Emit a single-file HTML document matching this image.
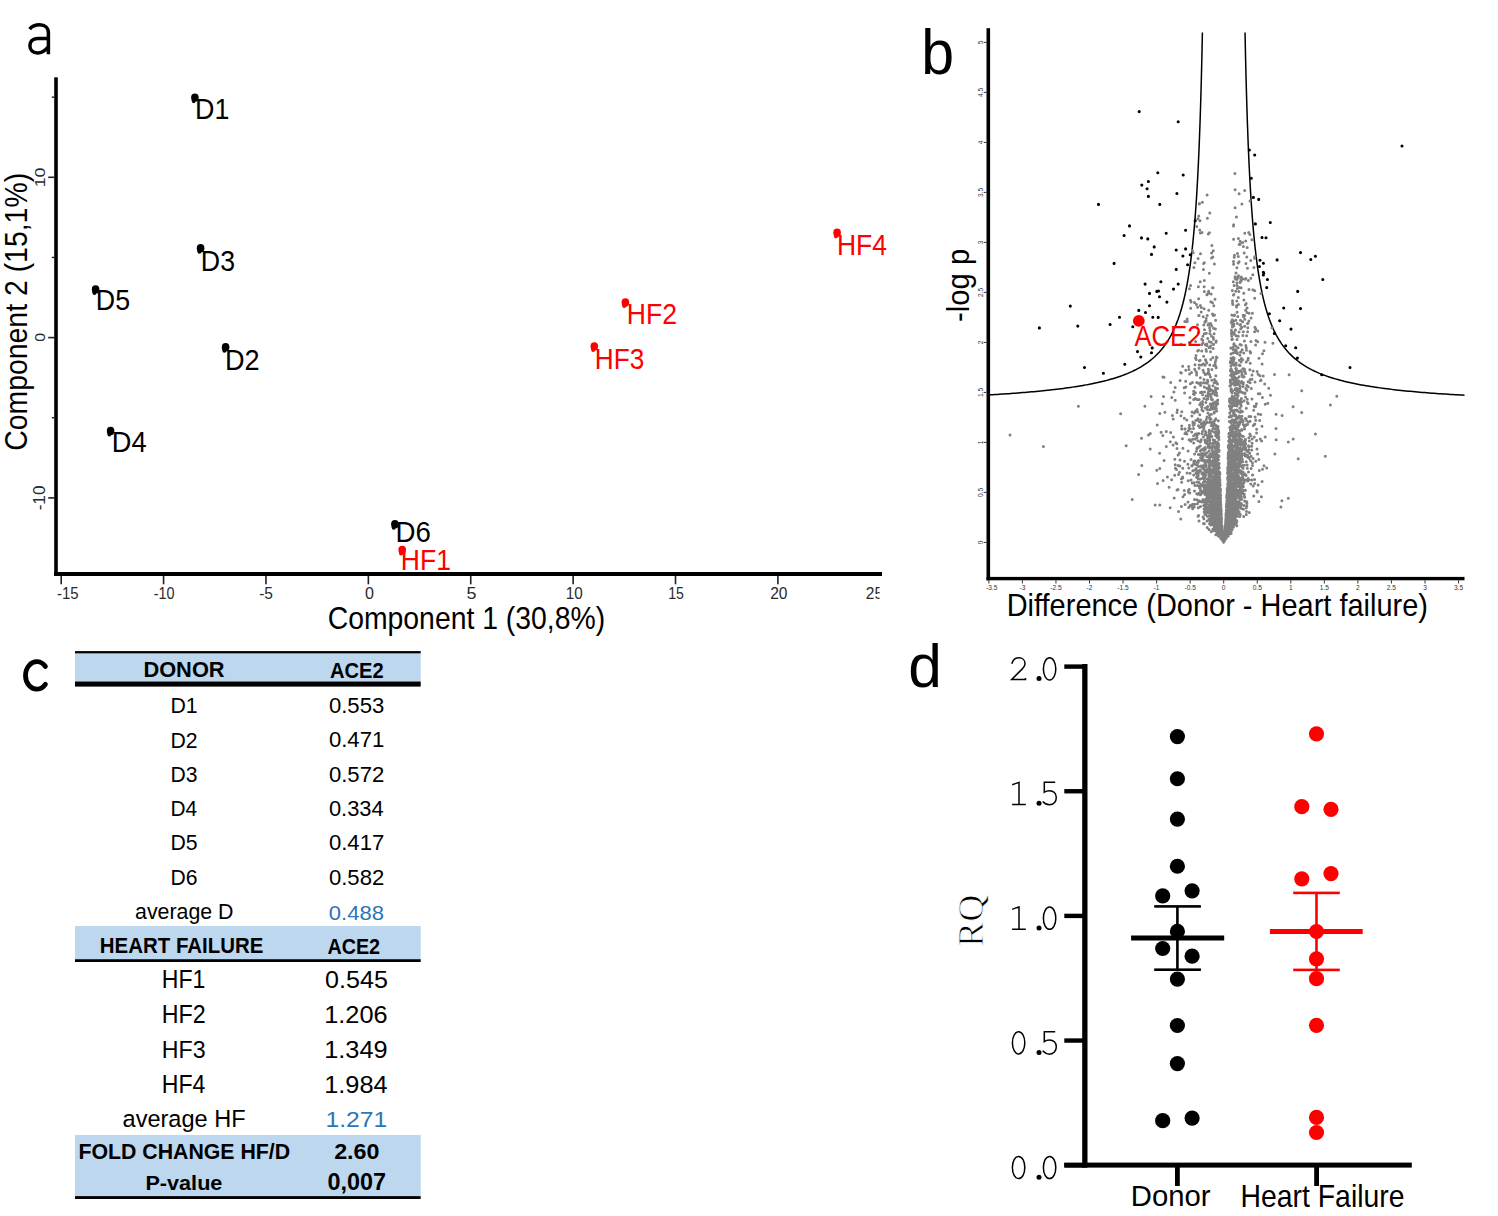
<!DOCTYPE html>
<html><head><meta charset="utf-8"><style>html,body{margin:0;padding:0;background:#fff}svg{display:block}</style></head>
<body><svg width="1498" height="1216" viewBox="0 0 1498 1216">
<rect width="1498" height="1216" fill="#fff"/>
<path d="M29.6 29.2C32 26.2 35.5 24.8 39.7 24.8C45 24.8 48.4 27.8 48.4 32.8V54.2M48.4 38.5H37.5C32.5 38.5 29.9 41.5 29.9 45.8C29.9 50.2 33 53 37.5 53C42 53 45.5 50.5 48.4 46.5" fill="none" stroke="#000" stroke-width="3.5"/>
<rect x="54.2" y="77.3" width="3.6" height="498.7" fill="#000"/>
<rect x="54" y="572" width="828" height="4" fill="#000"/>
<rect x="60.4" y="576" width="1.6" height="8.3" fill="#222"/>
<rect x="162.78" y="576" width="1.6" height="8.3" fill="#222"/>
<rect x="265.17" y="576" width="1.6" height="8.3" fill="#222"/>
<rect x="367.56" y="576" width="1.6" height="8.3" fill="#222"/>
<rect x="469.94" y="576" width="1.6" height="8.3" fill="#222"/>
<rect x="572.33" y="576" width="1.6" height="8.3" fill="#222"/>
<rect x="674.71" y="576" width="1.6" height="8.3" fill="#222"/>
<rect x="777.1" y="576" width="1.6" height="8.3" fill="#222"/>
<rect x="48.2" y="176.5" width="6" height="1.6" fill="#222"/>
<rect x="48.2" y="336.8" width="6" height="1.6" fill="#222"/>
<rect x="48.2" y="497.1" width="6" height="1.6" fill="#222"/>
<rect x="51.8" y="96.45" width="2.4" height="1.4" fill="#222"/>
<rect x="51.8" y="256.75" width="2.4" height="1.4" fill="#222"/>
<rect x="51.8" y="417.05" width="2.4" height="1.4" fill="#222"/>
<text transform="matrix(0.91 0 0 1 56.93 599.34)" font-family="'Liberation Sans', sans-serif" font-weight="400" font-size="16.43" fill="#2a2a2a">-15</text>
<text transform="matrix(0.89 0 0 1 153.65 599.34)" font-family="'Liberation Sans', sans-serif" font-weight="400" font-size="16.2" fill="#2a2a2a">-10</text>
<text transform="matrix(0.97 0 0 1 259.2 599.44)" font-family="'Liberation Sans', sans-serif" font-weight="400" font-size="16" fill="#2a2a2a">-5</text>
<text transform="matrix(1.02 0 0 1 365.06 599.44)" font-family="'Liberation Sans', sans-serif" font-weight="400" font-size="15.77" fill="#2a2a2a">0</text>
<text transform="matrix(1.12 0 0 1 466.38 599.44)" font-family="'Liberation Sans', sans-serif" font-weight="400" font-size="16" fill="#2a2a2a">5</text>
<text transform="matrix(0.94 0 0 1 565.86 599.34)" font-family="'Liberation Sans', sans-serif" font-weight="400" font-size="16.2" fill="#2a2a2a">10</text>
<text transform="matrix(0.86 0 0 1 668.14 599.34)" font-family="'Liberation Sans', sans-serif" font-weight="400" font-size="16.43" fill="#2a2a2a">15</text>
<text transform="matrix(0.96 0 0 1 770.22 599.34)" font-family="'Liberation Sans', sans-serif" font-weight="400" font-size="16.2" fill="#2a2a2a">20</text>
<clipPath id="c25"><rect x="860" y="580" width="19.6" height="30"/></clipPath><g clip-path="url(#c25)">
<text transform="matrix(0.96 0 0 1 865.83 599.34)" font-family="'Liberation Sans', sans-serif" font-weight="400" font-size="16.2" fill="#2a2a2a">25</text>
</g>
<text transform="translate(45.35 187.33) rotate(-90) scale(1.2 1)" font-family="'Liberation Sans', sans-serif" font-weight="400" font-size="14.79" fill="#2a2a2a">10</text>
<text transform="translate(45.45 341.74) rotate(-90) scale(1.06 1)" font-family="'Liberation Sans', sans-serif" font-weight="400" font-size="15.07" fill="#2a2a2a">0</text>
<text transform="translate(45.34 510.37) rotate(-90) scale(1.07 1)" font-family="'Liberation Sans', sans-serif" font-weight="400" font-size="16.06" fill="#2a2a2a">-10</text>
<text transform="translate(26.99 450.82) rotate(-90) scale(0.93 1)" font-family="'Liberation Sans', sans-serif" font-weight="400" font-size="30.56" fill="#000">Component 2 (15,1%)</text>
<text transform="matrix(0.92 0 0 1 327.68 629.09)" font-family="'Liberation Sans', sans-serif" font-weight="400" font-size="30.85" fill="#000">Component 1 (30,8%)</text>
<ellipse cx="194.9" cy="97.6" rx="3.8" ry="4.2" fill="#000"/>
<ellipse cx="193.7" cy="100.6" rx="2" ry="2.6" fill="#000"/>
<text transform="matrix(0.9 0 0 1 195.05 118.8)" font-family="'Liberation Sans', sans-serif" font-weight="400" font-size="29.86" fill="#000">D1</text>
<ellipse cx="200.6" cy="248.2" rx="3.8" ry="4.2" fill="#000"/>
<ellipse cx="199.4" cy="251.2" rx="2" ry="2.6" fill="#000"/>
<text transform="matrix(0.93 0 0 1 200.86 270.51)" font-family="'Liberation Sans', sans-serif" font-weight="400" font-size="28.73" fill="#000">D3</text>
<ellipse cx="95.6" cy="289.4" rx="3.8" ry="4.2" fill="#000"/>
<ellipse cx="94.4" cy="292.4" rx="2" ry="2.6" fill="#000"/>
<text transform="matrix(0.92 0 0 1 95.86 309.51)" font-family="'Liberation Sans', sans-serif" font-weight="400" font-size="29.14" fill="#000">D5</text>
<ellipse cx="225.6" cy="347.2" rx="3.8" ry="4.2" fill="#000"/>
<ellipse cx="224.4" cy="350.2" rx="2" ry="2.6" fill="#000"/>
<text transform="matrix(0.93 0 0 1 225.04 369.8)" font-family="'Liberation Sans', sans-serif" font-weight="400" font-size="29.14" fill="#000">D2</text>
<ellipse cx="110.6" cy="431" rx="3.8" ry="4.2" fill="#000"/>
<ellipse cx="109.4" cy="434" rx="2" ry="2.6" fill="#000"/>
<text transform="matrix(0.92 0 0 1 111.82 451.8)" font-family="'Liberation Sans', sans-serif" font-weight="400" font-size="29.57" fill="#000">D4</text>
<ellipse cx="394.9" cy="524.2" rx="3.8" ry="4.2" fill="#000"/>
<ellipse cx="393.7" cy="527.2" rx="2" ry="2.6" fill="#000"/>
<text transform="matrix(0.95 0 0 1 395.58 541.61)" font-family="'Liberation Sans', sans-serif" font-weight="400" font-size="29.15" fill="#000">D6</text>
<ellipse cx="402.2" cy="549.9" rx="3.8" ry="4.2" fill="#ff0000"/>
<ellipse cx="401" cy="552.9" rx="2" ry="2.6" fill="#ff0000"/>
<text transform="matrix(0.88 0 0 1 400.87 569.9)" font-family="'Liberation Sans', sans-serif" font-weight="400" font-size="30.14" fill="#ff0000">HF1</text>
<ellipse cx="625.4" cy="302.5" rx="3.8" ry="4.2" fill="#ff0000"/>
<ellipse cx="624.2" cy="305.5" rx="2" ry="2.6" fill="#ff0000"/>
<text transform="matrix(0.9 0 0 1 626.66 323.9)" font-family="'Liberation Sans', sans-serif" font-weight="400" font-size="29.57" fill="#ff0000">HF2</text>
<ellipse cx="594.3" cy="346.4" rx="3.8" ry="4.2" fill="#ff0000"/>
<ellipse cx="593.1" cy="349.4" rx="2" ry="2.6" fill="#ff0000"/>
<text transform="matrix(0.89 0 0 1 594.81 369.01)" font-family="'Liberation Sans', sans-serif" font-weight="400" font-size="29.44" fill="#ff0000">HF3</text>
<ellipse cx="837.1" cy="232.8" rx="3.8" ry="4.2" fill="#ff0000"/>
<ellipse cx="835.9" cy="235.8" rx="2" ry="2.6" fill="#ff0000"/>
<text transform="matrix(0.88 0 0 1 836.88 255)" font-family="'Liberation Sans', sans-serif" font-weight="400" font-size="30.14" fill="#ff0000">HF4</text>
<text transform="matrix(0.95 0 0 1 921.36 74.28)" font-family="'Liberation Sans', sans-serif" font-weight="400" font-size="62.18" fill="#000">b</text>
<rect x="986.5" y="28.2" width="3.6" height="552.1" fill="#000"/>
<rect x="986.5" y="576.9" width="478" height="3.4" fill="#000"/>
<rect x="988.35" y="580.3" width="1" height="3.2" fill="#333"/>
<text x="991.85" y="589.8" font-family="'Liberation Sans', sans-serif" font-size="6.6" text-anchor="middle" fill="#333">-3.5</text>
<rect x="1021.9" y="580.3" width="1" height="3.2" fill="#333"/>
<text x="1022.4" y="589.8" font-family="'Liberation Sans', sans-serif" font-size="6.6" text-anchor="middle" fill="#333">-3</text>
<rect x="1055.45" y="580.3" width="1" height="3.2" fill="#333"/>
<text x="1055.95" y="589.8" font-family="'Liberation Sans', sans-serif" font-size="6.6" text-anchor="middle" fill="#333">-2.5</text>
<rect x="1089" y="580.3" width="1" height="3.2" fill="#333"/>
<text x="1089.5" y="589.8" font-family="'Liberation Sans', sans-serif" font-size="6.6" text-anchor="middle" fill="#333">-2</text>
<rect x="1122.55" y="580.3" width="1" height="3.2" fill="#333"/>
<text x="1123.05" y="589.8" font-family="'Liberation Sans', sans-serif" font-size="6.6" text-anchor="middle" fill="#333">-1.5</text>
<rect x="1156.1" y="580.3" width="1" height="3.2" fill="#333"/>
<text x="1156.6" y="589.8" font-family="'Liberation Sans', sans-serif" font-size="6.6" text-anchor="middle" fill="#333">-1</text>
<rect x="1189.65" y="580.3" width="1" height="3.2" fill="#333"/>
<text x="1190.15" y="589.8" font-family="'Liberation Sans', sans-serif" font-size="6.6" text-anchor="middle" fill="#333">-0.5</text>
<rect x="1223.2" y="580.3" width="1" height="3.2" fill="#333"/>
<text x="1223.7" y="589.8" font-family="'Liberation Sans', sans-serif" font-size="6.6" text-anchor="middle" fill="#333">0</text>
<rect x="1256.75" y="580.3" width="1" height="3.2" fill="#333"/>
<text x="1257.25" y="589.8" font-family="'Liberation Sans', sans-serif" font-size="6.6" text-anchor="middle" fill="#333">0.5</text>
<rect x="1290.3" y="580.3" width="1" height="3.2" fill="#333"/>
<text x="1290.8" y="589.8" font-family="'Liberation Sans', sans-serif" font-size="6.6" text-anchor="middle" fill="#333">1</text>
<rect x="1323.85" y="580.3" width="1" height="3.2" fill="#333"/>
<text x="1324.35" y="589.8" font-family="'Liberation Sans', sans-serif" font-size="6.6" text-anchor="middle" fill="#333">1.5</text>
<rect x="1357.4" y="580.3" width="1" height="3.2" fill="#333"/>
<text x="1357.9" y="589.8" font-family="'Liberation Sans', sans-serif" font-size="6.6" text-anchor="middle" fill="#333">2</text>
<rect x="1390.95" y="580.3" width="1" height="3.2" fill="#333"/>
<text x="1391.45" y="589.8" font-family="'Liberation Sans', sans-serif" font-size="6.6" text-anchor="middle" fill="#333">2.5</text>
<rect x="1424.5" y="580.3" width="1" height="3.2" fill="#333"/>
<text x="1425" y="589.8" font-family="'Liberation Sans', sans-serif" font-size="6.6" text-anchor="middle" fill="#333">3</text>
<rect x="1458.05" y="580.3" width="1" height="3.2" fill="#333"/>
<text x="1458.55" y="589.8" font-family="'Liberation Sans', sans-serif" font-size="6.6" text-anchor="middle" fill="#333">3.5</text>
<rect x="983.8" y="541.9" width="2.7" height="1" fill="#333"/>
<text transform="translate(983.3 542.4) rotate(-90)" font-family="'Liberation Sans', sans-serif" font-size="6.6" text-anchor="middle" fill="#333">0</text>
<rect x="983.8" y="491.9" width="2.7" height="1" fill="#333"/>
<text transform="translate(983.3 492.4) rotate(-90)" font-family="'Liberation Sans', sans-serif" font-size="6.6" text-anchor="middle" fill="#333">0.5</text>
<rect x="983.8" y="441.9" width="2.7" height="1" fill="#333"/>
<text transform="translate(983.3 442.4) rotate(-90)" font-family="'Liberation Sans', sans-serif" font-size="6.6" text-anchor="middle" fill="#333">1</text>
<rect x="983.8" y="391.9" width="2.7" height="1" fill="#333"/>
<text transform="translate(983.3 392.4) rotate(-90)" font-family="'Liberation Sans', sans-serif" font-size="6.6" text-anchor="middle" fill="#333">1.5</text>
<rect x="983.8" y="341.9" width="2.7" height="1" fill="#333"/>
<text transform="translate(983.3 342.4) rotate(-90)" font-family="'Liberation Sans', sans-serif" font-size="6.6" text-anchor="middle" fill="#333">2</text>
<rect x="983.8" y="291.9" width="2.7" height="1" fill="#333"/>
<text transform="translate(983.3 292.4) rotate(-90)" font-family="'Liberation Sans', sans-serif" font-size="6.6" text-anchor="middle" fill="#333">2.5</text>
<rect x="983.8" y="241.9" width="2.7" height="1" fill="#333"/>
<text transform="translate(983.3 242.4) rotate(-90)" font-family="'Liberation Sans', sans-serif" font-size="6.6" text-anchor="middle" fill="#333">3</text>
<rect x="983.8" y="191.9" width="2.7" height="1" fill="#333"/>
<text transform="translate(983.3 192.4) rotate(-90)" font-family="'Liberation Sans', sans-serif" font-size="6.6" text-anchor="middle" fill="#333">3.5</text>
<rect x="983.8" y="141.9" width="2.7" height="1" fill="#333"/>
<text transform="translate(983.3 142.4) rotate(-90)" font-family="'Liberation Sans', sans-serif" font-size="6.6" text-anchor="middle" fill="#333">4</text>
<rect x="983.8" y="91.9" width="2.7" height="1" fill="#333"/>
<text transform="translate(983.3 92.4) rotate(-90)" font-family="'Liberation Sans', sans-serif" font-size="6.6" text-anchor="middle" fill="#333">4.5</text>
<rect x="983.8" y="41.9" width="2.7" height="1" fill="#333"/>
<text transform="translate(983.3 42.4) rotate(-90)" font-family="'Liberation Sans', sans-serif" font-size="6.6" text-anchor="middle" fill="#333">5</text>
<text transform="translate(969 322.02) rotate(-90) scale(0.94 1)" font-family="'Liberation Sans', sans-serif" font-weight="400" font-size="31.17" fill="#000">-log p</text>
<text transform="matrix(0.93 0 0 1 1006.69 616.2)" font-family="'Liberation Sans', sans-serif" font-weight="400" font-size="31.16" fill="#000">Difference (Donor - Heart failure)</text>
<path d="M1202.4 32.6 L1202.29 37.81 L1202.18 43.02 L1202.07 48.23 L1201.96 53.44 L1201.84 58.65 L1201.72 63.86 L1201.59 69.07 L1201.46 74.28 L1201.33 79.49 L1201.19 84.7 L1201.05 89.91 L1200.9 95.12 L1200.75 100.33 L1200.59 105.54 L1200.42 110.75 L1200.26 115.96 L1200.08 121.17 L1199.9 126.38 L1199.71 131.59 L1199.51 136.8 L1199.31 142.01 L1199.1 147.22 L1198.88 152.43 L1198.65 157.64 L1198.41 162.85 L1198.16 168.06 L1197.9 173.27 L1197.63 178.48 L1197.34 183.69 L1197.04 188.91 L1196.73 194.12 L1196.4 199.33 L1196.05 204.54 L1195.69 209.75 L1195.3 214.96 L1194.9 220.17 L1194.47 225.38 L1194.01 230.59 L1193.53 235.8 L1193.02 241.01 L1192.48 246.22 L1191.89 251.43 L1191.27 256.64 L1190.61 261.85 L1189.89 267.06 L1189.12 272.27 L1188.29 277.48 L1187.39 282.69 L1186.41 287.9 L1185.34 293.11 L1184.17 298.32 L1182.88 303.53 L1181.46 308.74 L1179.88 313.95 L1178.11 319.16 L1176.12 324.37 L1173.87 329.58 L1171.29 334.79 L1168.31 340 L1166.04 343.51 L1163.76 346.68 L1161.48 349.55 L1159.2 352.16 L1156.92 354.54 L1154.64 356.73 L1152.36 358.75 L1150.09 360.61 L1147.81 362.33 L1145.53 363.94 L1143.25 365.43 L1140.97 366.82 L1138.69 368.13 L1136.41 369.35 L1134.13 370.5 L1131.86 371.59 L1129.58 372.61 L1127.3 373.58 L1125.02 374.49 L1122.74 375.36 L1120.46 376.18 L1118.18 376.96 L1115.91 377.7 L1113.63 378.41 L1111.35 379.09 L1109.07 379.73 L1106.79 380.35 L1104.51 380.94 L1102.23 381.5 L1099.95 382.04 L1097.68 382.56 L1095.4 383.06 L1093.12 383.54 L1090.84 384 L1088.56 384.44 L1086.28 384.87 L1084 385.28 L1081.73 385.68 L1079.45 386.06 L1077.17 386.43 L1074.89 386.79 L1072.61 387.13 L1070.33 387.47 L1068.05 387.79 L1065.77 388.11 L1063.5 388.41 L1061.22 388.7 L1058.94 388.99 L1056.66 389.27 L1054.38 389.54 L1052.1 389.8 L1049.82 390.05 L1047.55 390.3 L1045.27 390.54 L1042.99 390.77 L1040.71 391 L1038.43 391.22 L1036.15 391.43 L1033.87 391.64 L1031.59 391.85 L1029.32 392.04 L1027.04 392.24 L1024.76 392.43 L1022.48 392.61 L1020.2 392.79 L1017.92 392.97 L1015.64 393.14 L1013.37 393.31 L1011.09 393.47 L1008.81 393.63 L1006.53 393.79 L1004.25 393.94 L1001.97 394.09 L999.69 394.24 L997.41 394.38 L995.14 394.52 L992.86 394.66 L990.58 394.79 L988.3 394.93" fill="none" stroke="#000" stroke-width="1.5"/>
<path d="M1245.03 32.6 L1245.14 37.81 L1245.25 43.02 L1245.36 48.23 L1245.47 53.44 L1245.59 58.65 L1245.72 63.86 L1245.84 69.07 L1245.97 74.28 L1246.1 79.49 L1246.24 84.7 L1246.39 89.91 L1246.53 95.12 L1246.69 100.33 L1246.84 105.54 L1247.01 110.75 L1247.18 115.96 L1247.35 121.17 L1247.53 126.38 L1247.72 131.59 L1247.92 136.8 L1248.12 142.01 L1248.33 147.22 L1248.55 152.43 L1248.78 157.64 L1249.02 162.85 L1249.27 168.06 L1249.53 173.27 L1249.81 178.48 L1250.09 183.69 L1250.39 188.91 L1250.71 194.12 L1251.03 199.33 L1251.38 204.54 L1251.75 209.75 L1252.13 214.96 L1252.54 220.17 L1252.96 225.38 L1253.42 230.59 L1253.9 235.8 L1254.41 241.01 L1254.96 246.22 L1255.54 251.43 L1256.16 256.64 L1256.82 261.85 L1257.54 267.06 L1258.31 272.27 L1259.14 277.48 L1260.04 282.69 L1261.02 287.9 L1262.09 293.11 L1263.26 298.32 L1264.55 303.53 L1265.97 308.74 L1267.55 313.95 L1269.32 319.16 L1271.31 324.37 L1273.57 329.58 L1276.14 334.79 L1279.12 340 L1281.46 343.61 L1283.81 346.86 L1286.16 349.79 L1288.5 352.45 L1290.85 354.88 L1293.2 357.1 L1295.54 359.15 L1297.89 361.03 L1300.24 362.77 L1302.58 364.39 L1304.93 365.9 L1307.28 367.3 L1309.62 368.61 L1311.97 369.84 L1314.32 371 L1316.66 372.08 L1319.01 373.11 L1321.36 374.07 L1323.7 374.99 L1326.05 375.85 L1328.4 376.67 L1330.74 377.45 L1333.09 378.19 L1335.44 378.9 L1337.78 379.57 L1340.13 380.21 L1342.48 380.82 L1344.82 381.41 L1347.17 381.97 L1349.52 382.51 L1351.86 383.02 L1354.21 383.52 L1356.56 383.99 L1358.9 384.45 L1361.25 384.89 L1363.6 385.31 L1365.94 385.72 L1368.29 386.11 L1370.64 386.49 L1372.98 386.86 L1375.33 387.21 L1377.68 387.55 L1380.02 387.88 L1382.37 388.2 L1384.72 388.51 L1387.06 388.81 L1389.41 389.1 L1391.76 389.38 L1394.1 389.66 L1396.45 389.92 L1398.79 390.18 L1401.14 390.43 L1403.49 390.67 L1405.83 390.91 L1408.18 391.14 L1410.53 391.36 L1412.87 391.58 L1415.22 391.79 L1417.57 392 L1419.91 392.2 L1422.26 392.39 L1424.61 392.59 L1426.95 392.77 L1429.3 392.95 L1431.65 393.13 L1433.99 393.3 L1436.34 393.47 L1438.69 393.64 L1441.03 393.8 L1443.38 393.96 L1445.73 394.11 L1448.07 394.26 L1450.42 394.41 L1452.77 394.55 L1455.11 394.69 L1457.46 394.83 L1459.81 394.97 L1462.15 395.1 L1464.5 395.23" fill="none" stroke="#000" stroke-width="1.5"/>
<path d="M1247.8 481.1h0M1222.9 537.6h0M1204.3 262.8h0M1228.7 490.8h0M1218.9 522.5h0M1212.9 530.2h0M1234.7 508.2h0M1202.4 202.3h0M1226.0 517.5h0M1224.8 533.7h0M1225.9 524.9h0M1225.1 534.6h0M1227.9 476.9h0M1220.2 526.2h0M1205.1 434.8h0M1213.1 487.2h0M1228.9 515.0h0M1178.1 455.0h0M1227.5 499.4h0M1200.4 233.1h0M1228.9 446.4h0M1228.4 461.8h0M1222.0 532.4h0M1236.5 479.2h0M1238.1 389.7h0M1216.1 500.7h0M1211.1 484.5h0M1226.9 527.9h0M1204.2 511.8h0M1237.3 490.3h0M1235.7 490.8h0M1223.7 542.4h0M1203.1 456.7h0M1207.2 493.6h0M1226.2 514.3h0M1222.8 539.7h0M1211.3 524.5h0M1220.8 515.9h0M1254.8 256.7h0M1244.9 445.9h0M1182.6 477.1h0M1232.3 490.5h0M1234.0 477.9h0M1221.3 522.9h0M1213.0 455.9h0M1156.8 470.2h0M1230.3 381.4h0M1233.3 450.9h0M1225.2 534.3h0M1235.1 381.5h0M1245.4 304.8h0M1217.0 521.2h0M1237.0 458.6h0M1241.8 450.7h0M1226.9 528.0h0M1220.7 527.1h0M1261.4 496.8h0M1230.5 523.4h0M1244.1 482.3h0M1221.2 511.4h0M1243.5 509.3h0M1225.7 521.2h0M1224.6 538.2h0M1221.7 532.9h0M1230.0 505.1h0M1221.4 533.5h0M1228.0 471.1h0M1228.6 487.6h0M1216.1 484.4h0M1226.6 506.5h0M1213.2 495.4h0M1224.7 535.5h0M1207.1 488.5h0M1232.1 465.4h0M1222.9 539.4h0M1230.5 480.8h0M1237.0 406.0h0M1228.3 452.5h0M1180.7 372.4h0M1223.4 541.0h0M1215.8 530.8h0M1242.7 436.3h0M1223.3 540.5h0M1233.0 475.7h0M1226.4 521.2h0M1220.6 519.4h0M1233.3 502.6h0M1234.6 422.5h0M1233.4 372.2h0M1240.8 441.0h0M1210.8 471.3h0M1242.8 445.1h0M1235.6 495.4h0M1201.3 423.9h0M1214.6 457.8h0M1235.6 329.9h0M1241.8 327.3h0M1232.3 499.1h0M1234.5 478.9h0M1212.4 465.9h0M1213.5 493.6h0M1223.8 542.1h0M1221.7 530.8h0M1212.6 484.2h0M1256.5 440.6h0M1227.8 518.5h0M1217.8 483.1h0M1201.4 485.4h0M1239.4 502.5h0M1239.5 464.5h0M1227.3 491.6h0M1226.1 531.9h0M1201.5 344.8h0M1229.1 498.7h0M1232.7 515.9h0M1225.6 530.4h0M1218.4 510.2h0M1230.4 475.4h0M1232.3 410.4h0M1218.4 520.3h0M1210.8 491.8h0M1224.4 539.8h0M1198.7 315.4h0M1224.5 538.4h0M1230.2 499.1h0M1229.6 507.2h0M1239.0 472.1h0M1240.5 462.8h0M1216.3 530.0h0M1233.6 224.8h0M1259.9 393.7h0M1218.8 507.1h0M1226.4 514.0h0M1245.0 371.4h0M1246.6 420.8h0M1219.2 499.0h0M1226.2 531.5h0M1222.4 534.0h0M1202.7 453.7h0M1222.3 537.5h0M1209.8 418.9h0M1235.6 519.7h0M1222.7 537.3h0M1219.9 522.4h0M1226.5 527.4h0M1223.9 542.0h0M1213.0 488.6h0M1222.7 536.3h0M1220.7 526.7h0M1232.4 511.0h0M1216.1 498.9h0M1214.1 509.8h0M1233.1 484.7h0M1227.1 528.2h0M1236.3 381.2h0M1219.1 515.2h0M1197.9 440.8h0M1207.4 500.6h0M1181.7 429.0h0M1207.4 509.1h0M1229.8 445.4h0M1203.6 505.5h0M1220.0 511.3h0M1221.3 525.4h0M1218.0 426.6h0M1227.5 500.7h0M1238.2 456.6h0M1224.5 538.1h0M1178.5 474.5h0M1215.0 527.2h0M1224.8 535.8h0M1245.8 449.3h0M1237.1 439.4h0M1219.9 506.2h0M1211.7 518.8h0M1238.2 493.3h0M1209.7 471.6h0M1230.6 502.3h0M1236.1 419.9h0M1219.9 521.1h0M1213.7 515.2h0M1224.5 538.5h0M1219.1 519.4h0M1216.5 510.5h0M1208.9 519.2h0M1229.3 510.8h0M1218.9 494.2h0M1232.0 495.3h0M1220.1 531.2h0M1232.8 469.7h0M1221.5 534.0h0M1218.2 463.5h0M1214.1 467.3h0M1236.3 383.9h0M1216.5 393.1h0M1218.4 480.2h0M1228.1 533.3h0M1225.0 532.7h0M1243.2 424.4h0M1215.1 477.8h0M1194.9 387.2h0M1215.4 523.8h0M1225.6 526.6h0M1218.2 443.3h0M1208.2 396.2h0M1227.2 512.7h0M1223.1 539.5h0M1208.2 388.1h0M1213.5 504.9h0M1212.4 507.6h0M1238.1 403.7h0M1243.5 316.7h0M1225.8 530.5h0M1227.9 513.6h0M1230.4 504.1h0M1194.2 394.6h0M1231.5 516.4h0M1225.3 533.1h0M1200.7 403.1h0M1219.6 495.9h0M1215.4 510.7h0M1229.9 489.9h0M1226.5 505.7h0M1221.3 513.8h0M1231.8 517.4h0M1224.9 536.7h0M1230.8 484.5h0M1223.8 542.2h0M1230.6 469.4h0M1225.2 532.4h0M1219.6 498.8h0M1204.1 286.8h0M1226.0 520.4h0M1206.4 443.3h0M1237.4 353.4h0M1226.4 526.5h0M1235.2 467.7h0M1219.1 528.2h0M1227.6 488.0h0M1226.3 526.3h0M1233.7 461.4h0M1250.0 200.9h0M1220.9 523.7h0M1208.9 515.7h0M1201.5 364.9h0M1222.2 531.4h0M1209.7 462.5h0M1218.8 527.5h0M1225.8 531.0h0M1224.4 541.0h0M1220.9 508.0h0M1230.3 482.0h0M1229.1 516.2h0M1227.6 473.5h0M1211.1 409.1h0M1222.8 538.4h0M1191.7 431.9h0M1276.2 439.8h0M1221.0 528.0h0M1232.5 449.4h0M1228.6 468.3h0M1228.0 522.4h0M1240.4 444.8h0M1221.0 525.0h0M1232.7 431.0h0M1201.2 439.8h0M1232.1 483.2h0M1242.3 374.8h0M1201.2 454.8h0M1213.5 498.4h0M1237.5 400.5h0M1231.4 330.2h0M1224.5 537.9h0M1218.2 467.1h0M1216.9 455.5h0M1229.8 448.9h0M1228.5 502.4h0M1224.5 539.1h0M1224.6 539.5h0M1230.5 477.6h0M1224.7 535.8h0M1236.5 502.7h0M1234.5 514.0h0M1219.9 514.8h0M1226.0 515.4h0M1233.2 495.5h0M1226.9 504.1h0M1217.4 491.2h0M1227.5 534.6h0M1227.2 514.1h0M1217.5 383.9h0M1224.3 539.6h0M1237.1 285.6h0M1209.3 273.2h0M1223.2 539.7h0M1228.2 502.0h0M1213.1 454.7h0M1216.5 481.7h0M1231.3 457.4h0M1224.9 538.1h0M1230.7 433.3h0M1217.0 459.1h0M1190.1 505.4h0M1185.1 428.9h0M1219.6 492.2h0M1230.8 494.8h0M1217.6 521.6h0M1200.3 305.4h0M1217.1 401.3h0M1204.5 329.8h0M1220.4 534.2h0M1225.2 538.8h0M1239.1 261.7h0M1227.8 520.3h0M1224.1 540.7h0M1216.0 519.4h0M1209.9 448.0h0M1219.4 505.6h0M1224.8 534.6h0M1218.6 536.2h0M1218.4 498.7h0M1230.5 485.1h0M1238.3 508.0h0M1217.9 521.9h0M1231.6 510.7h0M1223.2 540.8h0M1204.8 424.4h0M1217.8 477.1h0M1219.5 526.3h0M1225.8 529.4h0M1206.4 511.9h0M1221.7 535.7h0M1193.2 252.7h0M1214.7 528.3h0M1234.9 173.4h0M1236.5 401.7h0M1245.7 474.7h0M1224.4 538.5h0M1228.1 536.3h0M1229.8 427.5h0M1220.1 512.4h0M1220.3 504.3h0M1218.6 522.2h0M1234.7 373.4h0M1228.2 454.3h0M1228.8 505.5h0M1232.5 527.1h0M1261.0 380.0h0M1232.5 508.1h0M1216.5 503.1h0M1210.4 492.6h0M1225.8 533.4h0M1211.4 505.3h0M1221.0 530.9h0M1226.1 521.2h0M1235.7 460.1h0M1229.6 474.4h0M1226.1 530.1h0M1228.5 520.9h0M1225.2 528.1h0M1229.7 523.4h0M1218.9 494.4h0M1229.6 499.1h0M1195.3 398.5h0M1231.1 514.4h0M1231.6 466.5h0M1237.3 279.3h0M1176.8 443.7h0M1227.7 518.0h0M1184.8 321.4h0M1230.2 442.7h0M1237.4 514.4h0M1223.9 542.0h0M1225.8 531.4h0M1222.5 539.2h0M1199.2 365.1h0M1224.4 537.9h0M1211.0 418.9h0M1232.1 416.0h0M1219.0 502.3h0M1218.9 476.5h0M1234.6 465.8h0M1225.9 526.1h0M1223.3 540.9h0M1219.9 526.9h0M1230.4 473.3h0M1224.6 538.7h0M1232.3 419.7h0M1235.0 514.5h0M1221.9 534.9h0M1217.5 496.4h0M1214.3 506.9h0M1234.3 485.0h0M1216.6 382.9h0M1224.7 538.1h0M1228.7 507.4h0M1226.2 521.4h0M1223.8 542.1h0M1229.2 533.9h0M1215.6 527.2h0M1224.0 541.4h0M1236.1 363.0h0M1236.7 465.9h0M1236.1 481.8h0M1230.0 455.7h0M1189.1 428.0h0M1241.6 439.6h0M1229.0 500.4h0M1228.2 509.7h0M1222.7 537.3h0M1212.5 443.4h0M1236.2 523.6h0M1218.8 515.6h0M1214.4 263.9h0M1233.1 507.0h0M1233.3 502.6h0M1241.6 381.5h0M1227.2 511.4h0M1228.5 499.3h0M1225.6 534.8h0M1225.0 534.3h0M1235.5 400.1h0M1208.9 485.6h0M1218.8 466.4h0M1236.0 446.4h0M1222.3 536.5h0M1231.2 528.1h0M1233.6 380.0h0M1227.1 518.6h0M1227.9 514.1h0M1233.1 398.8h0M1234.3 463.9h0M1218.1 517.2h0M1233.3 281.7h0M1225.6 532.4h0M1223.3 540.7h0M1218.2 530.9h0M1229.1 527.6h0M1225.5 527.2h0M1233.5 504.1h0M1234.3 397.2h0M1227.6 513.9h0M1228.9 433.8h0M1219.8 515.1h0M1224.8 534.9h0M1221.0 521.0h0M1226.9 512.6h0M1234.4 479.8h0M1228.9 437.1h0M1232.9 464.2h0M1223.1 539.8h0M1214.3 411.9h0M1230.9 468.8h0M1274.5 374.5h0M1233.2 504.1h0M1213.5 497.8h0M1213.3 392.4h0M1226.2 527.8h0M1226.7 525.7h0M1211.6 253.0h0M1219.9 504.6h0M1234.5 477.8h0M1193.5 464.2h0M1224.6 538.6h0M1234.4 503.2h0M1237.3 427.8h0M1216.6 507.6h0M1231.6 332.1h0M1219.8 525.7h0M1226.1 513.3h0M1233.6 433.1h0M1231.5 506.4h0M1225.9 532.4h0M1237.2 505.5h0M1213.1 502.9h0M1202.9 336.2h0M1254.6 331.8h0M1229.2 512.6h0M1233.2 462.7h0M1220.4 527.1h0M1241.8 487.3h0M1218.4 504.7h0M1211.5 517.8h0M1215.5 480.1h0M1193.7 442.9h0M1222.0 531.3h0M1252.5 465.6h0M1220.5 533.2h0M1223.1 539.8h0M1227.8 494.5h0M1218.1 515.8h0M1238.1 495.5h0M1230.5 486.5h0M1224.3 540.8h0M1241.6 460.6h0M1220.3 523.8h0M1208.1 472.1h0M1212.5 302.8h0M1256.7 440.5h0M1263.9 350.8h0M1220.8 534.9h0M1220.1 488.6h0M1218.5 530.6h0M1179.5 472.3h0M1210.0 486.8h0M1229.9 445.7h0M1221.2 532.1h0M1247.4 402.5h0M1225.0 532.3h0M1227.9 486.9h0M1228.8 513.9h0M1235.3 436.9h0M1223.4 541.1h0M1221.3 529.9h0M1218.3 492.7h0M1224.6 537.2h0M1215.9 450.8h0M1223.1 540.4h0M1215.9 392.0h0M1226.1 534.7h0M1232.3 517.6h0M1223.8 542.2h0M1221.9 538.0h0M1230.7 502.0h0M1248.7 232.6h0M1226.6 517.7h0M1224.1 540.9h0M1236.2 503.7h0M1231.9 489.5h0M1217.6 437.3h0M1220.3 516.7h0M1220.3 491.3h0M1230.5 382.4h0M1218.6 517.8h0M1241.0 494.2h0M1224.6 538.0h0M1221.4 533.7h0M1230.1 450.8h0M1236.4 505.8h0M1226.3 531.0h0M1197.7 412.1h0M1216.5 477.8h0M1231.0 532.1h0M1244.7 315.6h0M1220.6 521.0h0M1225.6 525.1h0M1221.2 531.6h0M1225.8 535.4h0M1242.2 454.5h0M1228.9 511.9h0M1229.4 448.6h0M1220.0 523.2h0M1215.2 469.7h0M1226.5 523.7h0M1225.7 523.2h0M1219.6 517.9h0M1213.4 456.4h0M1224.0 541.4h0M1222.3 536.6h0M1194.3 413.1h0M1234.6 473.9h0M1250.2 363.2h0M1201.8 407.4h0M1209.7 460.2h0M1224.1 540.8h0M1213.1 425.4h0M1243.8 447.4h0M1239.0 478.8h0M1210.8 493.1h0M1234.3 504.0h0M1221.0 531.2h0M1228.5 491.0h0M1228.4 516.4h0M1234.6 410.3h0M1215.8 405.1h0M1240.0 344.6h0M1232.5 524.9h0M1197.2 482.1h0M1230.5 506.0h0M1227.1 515.6h0M1232.8 493.4h0M1206.3 419.4h0M1230.2 514.8h0M1222.4 536.0h0M1216.2 483.6h0M1227.0 531.9h0M1227.5 519.8h0M1209.1 451.1h0M1202.7 404.4h0M1228.7 474.3h0M1220.5 523.3h0M1228.4 504.6h0M1230.5 501.3h0M1232.2 517.3h0M1221.2 524.4h0M1223.3 540.1h0M1230.6 518.3h0M1221.0 532.2h0M1219.9 495.0h0M1209.9 454.4h0M1219.6 533.4h0M1232.3 503.8h0M1240.0 386.3h0M1234.7 487.1h0M1230.5 519.0h0M1237.8 427.6h0M1254.2 437.1h0M1227.4 528.3h0M1218.9 520.2h0M1245.5 450.0h0M1221.1 525.2h0M1241.7 479.8h0M1225.3 527.1h0M1223.6 542.1h0M1213.2 480.4h0M1204.3 512.3h0M1243.1 491.1h0M1226.2 533.9h0M1231.7 473.0h0M1244.7 326.3h0M1205.5 359.7h0M1227.3 515.9h0M1175.2 464.7h0M1233.5 503.4h0M1223.5 541.8h0M1250.9 341.6h0M1216.9 435.4h0M1231.9 509.3h0M1233.2 496.6h0M1229.7 443.8h0M1229.8 480.2h0M1237.3 480.5h0M1221.1 534.2h0M1184.3 490.6h0M1228.6 440.9h0M1230.4 430.2h0M1240.9 351.8h0M1231.1 489.3h0M1223.7 542.4h0M1221.6 534.3h0M1210.2 481.3h0M1177.0 412.4h0M1230.8 493.2h0M1188.3 491.9h0M1211.8 404.4h0M1225.7 532.6h0M1239.2 244.6h0M1211.4 454.7h0M1227.1 521.2h0M1211.4 399.0h0M1237.3 507.0h0M1188.4 430.8h0M1223.7 542.3h0M1217.5 485.4h0M1230.3 492.5h0M1237.3 501.8h0M1229.0 521.8h0M1224.8 537.6h0M1231.9 403.1h0M1243.2 384.1h0M1249.9 234.5h0M1207.9 412.9h0M1227.5 532.4h0M1215.4 457.7h0M1232.2 448.0h0M1233.8 344.6h0M1225.8 534.4h0M1212.2 509.5h0M1220.8 531.4h0M1216.4 522.8h0M1207.2 471.9h0M1233.7 466.5h0M1211.4 399.2h0M1217.1 521.8h0M1222.7 538.8h0M1216.6 446.1h0M1222.5 538.8h0M1206.4 351.3h0M1218.2 528.1h0M1197.6 465.3h0M1220.8 525.8h0M1240.6 498.5h0M1216.2 340.9h0M1219.9 528.6h0M1228.1 528.0h0M1197.5 324.8h0M1216.3 408.6h0M1235.7 496.7h0M1220.7 522.5h0M1221.1 516.8h0M1229.1 497.9h0M1227.2 518.3h0M1202.6 491.4h0M1225.3 533.4h0M1232.2 487.0h0M1204.9 514.3h0M1216.1 477.9h0M1227.0 513.0h0M1226.4 526.7h0M1238.8 291.6h0M1232.3 319.7h0M1250.1 382.7h0M1218.3 509.2h0M1218.6 508.0h0M1219.1 502.9h0M1222.0 534.7h0M1211.8 431.0h0M1212.6 489.9h0M1220.9 520.2h0M1232.7 486.4h0M1228.8 520.5h0M1205.6 423.4h0M1238.7 371.3h0M1220.1 519.8h0M1232.1 519.4h0M1219.6 532.2h0M1219.9 491.2h0M1221.1 521.8h0M1244.4 341.0h0M1218.9 522.2h0M1212.1 454.2h0M1177.0 489.9h0M1226.1 525.3h0M1204.8 476.7h0M1206.0 499.0h0M1221.9 532.3h0M1243.9 300.1h0M1222.9 538.6h0M1231.8 435.8h0M1229.0 512.1h0M1226.8 521.9h0M1214.8 457.1h0M1246.2 454.9h0M1228.1 515.8h0M1209.9 493.5h0M1217.0 446.5h0M1229.0 519.8h0M1207.6 293.7h0M1226.6 517.8h0M1250.6 460.8h0M1212.8 403.1h0M1215.6 482.1h0M1213.7 510.8h0M1250.8 260.5h0M1222.7 536.9h0M1236.4 217.1h0M1232.0 399.9h0M1219.8 511.4h0M1233.0 525.7h0M1203.3 459.8h0M1227.9 530.7h0M1237.0 371.2h0M1226.7 528.9h0M1215.9 496.8h0M1231.8 525.1h0M1207.8 492.7h0M1233.4 514.2h0M1215.8 534.7h0M1226.6 528.9h0M1199.1 315.4h0M1243.5 479.9h0M1232.5 303.1h0M1222.8 538.9h0M1239.2 425.0h0M1231.0 502.7h0M1228.6 485.2h0M1216.7 510.9h0M1226.6 504.9h0M1216.7 515.0h0M1246.5 511.5h0M1236.5 475.3h0M1213.2 524.7h0M1206.9 344.1h0M1231.5 478.5h0M1224.5 539.2h0M1234.5 378.7h0M1216.6 443.8h0M1233.0 495.5h0M1227.6 520.6h0M1228.4 490.6h0M1228.4 513.1h0M1217.8 508.7h0M1224.4 539.5h0M1223.4 541.5h0M1230.6 510.9h0M1235.9 496.4h0M1204.3 422.8h0M1213.2 439.8h0M1230.9 515.7h0M1240.0 365.4h0M1203.9 398.5h0M1221.7 525.9h0M1236.3 483.2h0M1221.8 526.5h0M1235.1 207.8h0M1222.7 538.5h0M1232.5 474.6h0M1218.7 525.1h0M1236.0 516.5h0M1244.8 233.3h0M1233.0 347.4h0M1255.6 328.6h0M1182.7 478.0h0M1242.5 475.4h0M1217.6 530.4h0M1209.4 434.4h0M1234.4 435.1h0M1197.0 437.4h0M1218.1 491.1h0M1218.2 514.6h0M1216.6 519.3h0M1256.6 432.9h0M1241.7 487.9h0M1236.8 384.8h0M1224.9 534.6h0M1216.0 521.0h0M1225.6 533.0h0M1212.6 405.3h0M1218.5 445.5h0M1223.2 540.0h0M1215.3 362.0h0M1221.4 536.1h0M1205.8 514.7h0M1225.1 535.2h0M1234.7 459.0h0M1227.8 534.5h0M1218.8 436.9h0M1222.7 539.0h0M1244.0 505.5h0M1243.2 448.0h0M1232.0 510.5h0M1226.7 496.8h0M1234.3 334.2h0M1219.9 524.2h0M1233.2 349.4h0M1232.5 451.6h0M1232.9 375.7h0M1193.6 435.8h0M1189.3 342.6h0M1209.2 504.5h0M1200.5 478.9h0M1209.1 445.6h0M1231.2 461.6h0M1239.9 452.6h0M1232.7 455.4h0M1217.1 525.1h0M1219.6 524.1h0M1225.5 534.2h0M1242.6 359.8h0M1225.8 530.9h0M1228.0 529.8h0M1228.6 494.2h0M1218.2 490.0h0M1244.3 474.4h0M1222.9 537.5h0M1202.4 466.1h0M1222.6 539.9h0M1223.4 541.8h0M1235.5 394.8h0M1227.0 512.8h0M1225.6 523.2h0M1224.3 540.5h0M1232.6 377.7h0M1196.0 371.6h0M1226.5 510.2h0M1244.2 253.0h0M1240.3 491.4h0M1208.1 447.3h0M1233.7 522.7h0M1234.1 518.4h0M1215.2 469.5h0M1216.2 488.1h0M1229.4 464.4h0M1229.8 499.7h0M1229.5 530.5h0M1220.8 529.8h0M1225.3 531.6h0M1202.6 484.4h0M1207.1 452.7h0M1219.0 489.2h0M1227.5 522.9h0M1209.1 347.5h0M1218.2 503.8h0M1226.6 515.7h0M1211.3 493.7h0M1217.5 443.4h0M1214.6 502.5h0M1209.4 506.4h0M1226.7 518.9h0M1220.6 497.9h0M1223.5 541.5h0M1234.6 385.2h0M1229.3 421.5h0M1231.4 475.9h0M1215.7 502.1h0M1224.0 541.4h0M1235.0 503.1h0M1230.9 495.5h0M1210.8 473.5h0M1192.0 465.9h0M1218.5 430.4h0M1205.4 442.5h0M1206.0 349.6h0M1225.5 528.2h0M1223.6 542.2h0M1233.1 502.0h0M1224.6 537.0h0M1197.1 409.4h0M1216.7 473.6h0M1202.0 232.4h0M1222.0 534.4h0M1227.1 528.0h0M1242.9 472.1h0M1231.7 474.8h0M1218.2 462.9h0M1226.1 527.2h0M1244.1 496.2h0M1225.6 534.2h0M1211.9 436.6h0M1228.7 484.9h0M1236.3 501.2h0M1222.7 537.6h0M1217.5 480.4h0M1213.8 472.4h0M1211.7 493.1h0M1214.8 482.1h0M1231.4 429.3h0M1210.0 330.6h0M1220.2 499.7h0M1163.1 480.4h0M1228.8 510.0h0M1233.4 477.4h0M1216.1 503.9h0M1229.0 522.0h0M1218.0 522.7h0M1229.5 474.0h0M1224.3 540.2h0M1184.5 461.3h0M1235.2 502.8h0M1224.4 539.2h0M1235.8 454.6h0M1216.1 459.1h0M1211.1 396.7h0M1249.4 441.0h0M1227.6 522.1h0M1223.9 541.9h0M1276.1 414.2h0M1232.5 300.7h0M1224.7 539.1h0M1217.8 503.5h0M1222.5 538.9h0M1221.0 527.9h0M1244.5 440.7h0M1235.3 478.3h0M1216.2 503.0h0M1211.8 461.4h0M1178.2 465.5h0M1222.3 536.3h0M1223.6 542.0h0M1241.7 392.2h0M1227.8 516.8h0M1217.0 520.2h0M1219.4 519.2h0M1232.4 503.1h0M1231.1 514.0h0M1181.8 411.8h0M1230.5 451.1h0M1215.7 443.1h0M1231.8 339.6h0M1223.2 540.0h0M1233.1 446.0h0M1227.0 521.2h0M1188.8 467.9h0M1220.6 495.3h0M1270.5 395.3h0M1230.1 514.5h0M1226.1 515.5h0M1229.6 504.5h0M1224.2 540.9h0M1224.0 541.4h0M1228.0 503.8h0M1218.2 495.9h0M1233.1 523.3h0M1238.2 509.0h0M1229.8 453.9h0M1221.6 530.8h0M1228.0 510.7h0M1226.6 534.9h0M1228.3 515.2h0M1216.0 518.5h0M1235.3 438.6h0M1239.1 193.8h0M1212.4 314.0h0M1189.2 489.5h0M1217.9 527.8h0M1239.9 435.2h0M1206.9 294.7h0M1211.6 491.3h0M1181.3 372.9h0M1220.2 530.4h0M1240.0 503.7h0M1253.1 458.6h0M1215.2 475.4h0M1256.4 403.8h0M1238.3 336.3h0M1239.9 433.5h0M1233.6 375.8h0M1243.7 443.5h0M1230.7 515.3h0M1226.8 532.8h0M1184.9 433.5h0M1226.6 529.0h0M1215.2 493.5h0M1210.0 460.9h0M1239.1 331.9h0M1151.1 396.6h0M1245.2 279.2h0M1241.9 483.3h0M1226.8 517.0h0M1205.0 321.6h0M1226.7 533.2h0M1218.9 495.9h0M1223.1 538.7h0M1233.5 504.4h0M1202.0 425.0h0M1225.3 535.6h0M1234.9 483.2h0M1228.3 526.8h0M1226.1 518.6h0M1229.2 440.4h0M1238.6 384.3h0M1224.7 536.5h0M1239.0 497.9h0M1239.4 486.8h0M1211.0 490.6h0M1230.6 478.3h0M1220.3 531.4h0M1245.6 443.8h0M1227.6 529.0h0M1229.4 512.9h0M1207.8 500.9h0M1220.7 531.9h0M1234.3 350.1h0M1247.8 327.7h0M1222.1 534.4h0M1239.3 493.3h0M1228.6 507.1h0M1188.2 480.7h0M1224.0 541.7h0M1220.8 514.5h0M1213.0 421.9h0M1203.4 382.7h0M1214.3 499.3h0M1220.2 513.3h0M1232.9 505.0h0M1199.4 454.4h0M1219.3 519.3h0M1228.5 467.7h0M1231.3 512.2h0M1224.4 538.2h0M1215.4 497.5h0M1229.2 416.9h0M1227.2 508.4h0M1238.7 453.0h0M1215.4 462.0h0M1227.7 478.5h0M1223.4 541.7h0M1217.7 482.1h0M1236.3 504.2h0M1227.7 505.6h0M1220.1 518.9h0M1237.1 312.2h0M1249.0 289.4h0M1237.5 491.9h0M1239.6 483.1h0M1208.0 482.6h0M1230.4 456.1h0M1243.5 444.0h0M1218.4 522.2h0M1217.0 437.5h0M1228.0 511.0h0M1233.2 498.7h0M1227.0 523.5h0M1225.6 527.4h0M1226.3 532.3h0M1229.7 481.2h0M1233.2 434.4h0M1211.9 245.5h0M1211.0 447.7h0M1227.3 493.8h0M1227.3 510.9h0M1242.6 493.2h0M1205.2 485.0h0M1227.0 534.6h0M1231.4 483.5h0M1236.8 457.4h0M1208.2 512.3h0M1224.2 540.5h0M1193.9 267.5h0M1211.0 435.7h0M1239.3 360.2h0M1206.8 504.0h0M1192.5 504.3h0M1235.1 451.2h0M1227.0 520.9h0M1222.7 537.9h0M1200.6 382.8h0M1233.6 440.0h0M1232.0 460.0h0M1228.9 519.9h0M1202.6 401.6h0M1227.0 503.7h0M1225.4 534.4h0M1227.7 494.2h0M1216.1 518.0h0M1232.2 517.2h0M1216.7 512.2h0M1224.3 540.2h0M1217.0 485.1h0M1218.9 509.4h0M1217.2 484.2h0M1239.2 376.8h0M1229.5 488.0h0M1219.1 520.3h0M1218.0 483.7h0M1218.1 491.7h0M1236.2 431.0h0M1230.3 513.7h0M1225.9 526.2h0M1229.9 485.0h0M1217.8 517.0h0M1219.4 531.4h0M1201.3 484.5h0M1246.3 347.8h0M1227.6 503.8h0M1253.3 425.4h0M1227.9 489.7h0M1229.9 528.3h0M1204.2 479.3h0M1225.9 520.6h0M1224.3 540.0h0M1196.2 359.5h0M1235.1 452.1h0M1213.1 494.8h0M1208.3 369.2h0M1224.8 537.3h0M1213.9 515.4h0M1194.9 262.7h0M1214.7 520.2h0M1234.3 469.3h0M1215.0 299.2h0M1258.1 374.3h0M1244.8 319.2h0M1204.6 485.1h0M1193.9 462.3h0M1219.8 511.5h0M1229.3 506.8h0M1219.7 534.0h0M1203.4 460.2h0M1223.2 540.0h0M1236.6 307.1h0M1230.6 473.8h0M1238.8 436.3h0M1210.5 351.7h0M1224.6 538.9h0M1199.3 360.8h0M1198.6 332.4h0M1184.3 418.3h0M1227.4 511.0h0M1211.3 389.9h0M1233.3 516.9h0M1221.1 523.4h0M1225.4 525.3h0M1223.9 541.7h0M1239.5 490.8h0M1213.9 519.6h0M1228.2 507.7h0M1221.1 515.1h0M1227.9 532.7h0M1224.0 541.3h0M1226.1 521.5h0M1225.8 536.4h0M1221.9 527.9h0M1248.1 478.6h0M1215.4 448.5h0M1225.1 538.9h0M1229.7 484.5h0M1222.1 538.7h0M1211.2 513.3h0M1241.8 455.9h0M1209.5 477.3h0M1217.0 474.8h0M1212.0 393.7h0M1254.7 298.3h0M1232.5 506.8h0M1226.5 515.2h0M1221.9 526.3h0M1227.8 467.2h0M1220.9 529.2h0M1231.9 524.6h0M1229.1 516.4h0M1235.3 521.2h0M1209.2 385.7h0M1226.8 525.9h0M1233.0 453.1h0M1228.8 526.7h0M1226.5 518.5h0M1244.5 426.6h0M1190.7 308.3h0M1226.2 514.9h0M1218.3 515.8h0M1226.3 506.7h0M1213.6 525.4h0M1219.3 485.8h0M1225.5 527.3h0M1212.5 486.0h0M1213.0 528.9h0M1226.4 510.1h0M1231.6 477.7h0M1211.2 342.3h0M1226.0 525.3h0M1220.4 489.0h0M1242.4 459.2h0M1173.1 445.0h0M1231.1 533.4h0M1224.2 540.7h0M1220.0 526.5h0M1220.2 522.5h0M1230.3 494.8h0M1222.6 534.2h0M1218.7 488.4h0M1218.7 433.1h0M1224.7 538.8h0M1215.8 475.3h0M1219.0 455.9h0M1207.2 485.3h0M1258.9 501.4h0M1235.4 504.2h0M1235.6 426.5h0M1235.7 471.1h0M1214.0 465.9h0M1234.6 438.8h0M1227.8 525.4h0M1205.2 488.5h0M1242.1 467.3h0M1212.1 490.4h0M1212.5 472.2h0M1236.1 463.8h0M1204.1 508.8h0M1227.6 513.3h0M1211.1 509.0h0M1212.1 482.8h0M1230.3 506.9h0M1227.3 528.5h0M1235.0 482.1h0M1210.7 405.5h0M1232.5 474.9h0M1234.8 506.1h0M1163.5 396.5h0M1215.1 490.8h0M1224.0 541.4h0M1223.8 542.2h0M1218.9 521.0h0M1224.7 537.1h0M1233.2 513.3h0M1227.2 510.5h0M1246.1 418.8h0M1215.7 484.2h0M1220.5 501.6h0M1227.5 525.4h0M1243.4 382.7h0M1226.4 523.3h0M1218.5 521.3h0M1230.1 517.5h0M1221.7 537.3h0M1192.6 508.8h0M1232.6 506.3h0M1213.7 442.6h0M1215.0 530.2h0M1216.4 357.0h0M1214.6 446.4h0M1230.8 421.5h0M1225.5 529.6h0M1239.9 454.9h0M1221.8 527.4h0M1219.3 519.9h0M1223.1 540.2h0M1231.4 435.2h0M1233.1 363.5h0M1219.9 531.2h0M1229.7 441.7h0M1215.9 342.2h0M1220.9 512.4h0M1235.9 516.0h0M1236.1 487.8h0M1231.3 446.0h0M1216.7 531.8h0M1228.3 518.1h0M1214.9 523.6h0M1226.7 530.5h0M1215.5 508.3h0M1235.7 416.3h0M1219.4 532.8h0M1222.7 536.2h0M1206.1 361.2h0M1218.4 504.7h0M1230.4 490.7h0M1215.2 402.1h0M1230.9 470.2h0M1191.7 506.6h0M1225.3 531.2h0M1212.2 487.6h0M1211.2 425.5h0M1180.0 459.9h0M1223.2 540.2h0M1186.8 419.9h0M1231.7 485.8h0M1213.5 459.5h0M1240.4 507.0h0M1196.8 448.8h0M1227.3 519.2h0M1236.9 482.7h0M1219.5 511.9h0M1181.7 482.2h0M1225.5 530.0h0M1225.2 532.4h0M1219.8 528.0h0M1245.8 388.6h0M1227.0 524.4h0M1216.7 510.5h0M1218.4 520.8h0M1231.7 479.6h0M1223.0 539.7h0M1236.5 483.4h0M1225.4 536.2h0M1226.3 521.5h0M1238.0 441.9h0M1236.8 404.9h0M1221.2 533.5h0M1219.4 533.7h0M1194.8 504.2h0M1226.0 522.2h0M1224.0 541.4h0M1204.3 280.6h0M1243.8 293.3h0M1245.6 425.6h0M1241.2 497.2h0M1212.3 450.2h0M1198.2 507.8h0M1224.7 536.5h0M1226.7 509.6h0M1234.2 403.0h0M1231.6 360.2h0M1217.4 459.8h0M1228.6 495.7h0M1226.0 534.4h0M1216.9 462.4h0M1224.4 538.1h0M1235.7 457.0h0M1218.9 517.3h0M1208.4 460.0h0M1221.0 505.3h0M1230.4 523.6h0M1214.4 492.1h0M1216.5 487.4h0M1228.5 499.3h0M1226.7 525.5h0M1219.9 474.3h0M1216.5 498.2h0M1224.9 535.5h0M1213.2 505.1h0M1212.6 287.7h0M1220.8 510.9h0M1234.3 345.0h0M1232.5 494.2h0M1219.2 524.4h0M1236.0 483.9h0M1214.4 475.2h0M1192.4 382.4h0M1223.8 542.1h0M1235.2 421.1h0M1209.0 485.0h0M1196.9 499.8h0M1202.7 340.3h0M1220.2 485.2h0M1252.1 438.9h0M1208.3 234.1h0M1204.8 473.0h0M1220.1 509.9h0M1205.3 493.4h0M1213.9 486.7h0M1224.1 541.6h0M1196.1 468.4h0M1225.0 538.5h0M1234.9 374.0h0M1246.3 408.2h0M1221.5 518.9h0M1205.2 494.6h0M1239.3 424.2h0M1239.8 499.2h0M1220.2 534.1h0M1224.1 540.8h0M1204.1 308.7h0M1210.7 323.5h0M1222.8 538.6h0M1225.3 536.8h0M1219.9 526.7h0M1217.9 508.4h0M1228.3 515.6h0M1214.6 480.4h0M1228.6 512.9h0M1238.8 454.9h0M1171.6 479.7h0M1227.7 516.7h0M1204.1 426.1h0M1215.4 328.9h0M1222.1 538.1h0M1240.9 435.6h0M1225.7 530.3h0M1222.3 531.6h0M1229.2 484.9h0M1219.3 467.9h0M1226.2 520.9h0M1231.3 490.6h0M1221.4 533.4h0M1237.4 443.3h0M1224.9 535.9h0M1243.6 448.9h0M1195.5 357.9h0M1226.6 517.6h0M1225.4 527.6h0M1218.1 432.9h0M1239.1 421.8h0M1228.5 520.8h0M1228.5 509.0h0M1244.4 454.2h0M1219.1 520.2h0M1207.4 516.2h0M1226.7 516.6h0M1220.0 512.3h0M1198.5 473.0h0M1222.4 532.5h0M1207.2 527.5h0M1207.9 500.2h0M1221.5 536.4h0M1222.3 532.2h0M1228.3 498.1h0M1226.7 533.1h0M1241.7 372.4h0M1222.4 537.8h0M1226.6 507.3h0M1248.4 280.4h0M1237.6 394.7h0M1230.8 496.1h0M1210.1 507.9h0M1237.4 352.7h0M1213.1 344.2h0M1224.7 538.5h0M1169.1 487.2h0M1208.8 456.1h0M1218.7 444.7h0M1217.6 388.5h0M1210.7 525.0h0M1222.5 538.0h0M1227.6 477.7h0M1232.0 490.5h0M1225.5 525.4h0M1230.8 348.1h0M1225.2 529.9h0M1217.7 522.1h0M1205.0 365.2h0M1228.1 494.6h0M1226.2 538.2h0M1236.5 486.6h0M1243.3 331.7h0M1220.1 522.6h0M1230.3 467.8h0M1228.9 528.0h0M1241.7 499.2h0M1221.2 526.8h0M1227.7 490.9h0M1212.7 516.1h0M1224.6 537.9h0M1224.6 536.7h0M1223.5 541.6h0M1215.9 488.9h0M1223.0 539.1h0M1226.2 512.5h0M1219.1 502.2h0M1228.7 509.5h0M1213.9 523.7h0M1234.3 480.5h0M1216.7 518.3h0M1213.1 391.7h0M1228.9 503.6h0M1227.6 511.4h0M1227.0 511.1h0M1220.2 531.6h0M1229.6 439.1h0M1228.1 480.1h0M1245.5 448.0h0M1237.1 378.3h0M1218.4 479.7h0M1239.9 355.3h0M1178.0 489.4h0M1225.7 521.9h0M1213.4 510.9h0M1217.4 497.8h0M1228.2 521.6h0M1228.6 517.6h0M1207.5 506.9h0M1227.6 503.8h0M1226.8 521.5h0M1212.9 529.5h0M1236.5 510.3h0M1220.6 531.0h0M1211.2 522.5h0M1229.9 457.4h0M1229.3 507.7h0M1206.8 456.7h0M1219.7 534.0h0M1227.7 522.7h0M1222.2 531.3h0M1208.0 444.8h0M1206.4 501.7h0M1224.8 537.1h0M1234.1 506.4h0M1232.1 507.8h0M1228.6 503.7h0M1238.3 470.6h0M1228.8 494.2h0M1218.2 430.3h0M1198.4 286.8h0M1227.5 489.8h0M1227.3 520.5h0M1221.5 525.3h0M1241.1 362.1h0M1260.5 380.7h0M1212.0 491.4h0M1232.1 405.9h0M1228.2 466.8h0M1223.5 541.6h0M1229.3 467.3h0M1225.4 534.9h0M1228.7 458.6h0M1229.7 521.4h0M1225.6 535.0h0M1232.9 493.1h0M1222.2 532.4h0M1231.8 492.3h0M1218.2 528.8h0M1224.3 539.8h0M1208.6 291.2h0M1241.3 280.8h0M1260.0 375.7h0M1229.7 413.1h0M1230.2 531.9h0M1227.7 534.9h0M1228.3 461.8h0M1225.6 530.0h0M1231.4 484.8h0M1230.4 495.7h0M1216.2 501.5h0M1226.8 523.5h0M1204.8 439.9h0M1246.2 303.4h0M1226.9 517.2h0M1248.4 445.7h0M1225.3 533.4h0M1221.3 521.7h0M1251.7 446.3h0M1218.9 506.8h0M1222.1 527.1h0M1226.8 525.8h0M1229.4 521.8h0M1229.7 483.0h0M1234.7 445.8h0M1230.5 409.2h0M1208.6 500.8h0M1222.8 537.9h0M1229.2 481.3h0M1229.4 467.1h0M1230.0 485.2h0M1228.3 510.2h0M1225.3 537.0h0M1237.8 418.3h0M1204.3 333.7h0M1223.9 542.0h0M1220.4 531.6h0M1209.9 506.6h0M1216.1 501.1h0M1203.6 356.3h0M1203.8 428.9h0M1255.7 406.3h0M1230.6 478.5h0M1219.9 482.6h0M1220.9 508.9h0M1253.1 370.9h0M1244.1 400.8h0M1219.5 512.9h0M1199.0 493.2h0M1223.9 541.9h0M1216.2 367.8h0M1215.3 488.0h0M1217.7 444.4h0M1224.2 540.6h0M1235.5 475.9h0M1187.9 464.2h0M1223.6 542.1h0M1241.4 382.5h0M1245.5 397.0h0M1227.6 500.0h0M1222.2 540.0h0M1209.6 374.4h0M1235.0 458.9h0M1219.8 528.0h0M1203.6 263.5h0M1226.4 520.5h0M1238.0 501.8h0M1219.6 521.6h0M1232.6 519.1h0M1216.2 507.1h0M1232.1 469.2h0M1200.3 446.1h0M1232.9 501.5h0M1244.7 453.5h0M1250.8 278.3h0M1236.1 335.8h0M1221.1 529.1h0M1227.0 503.7h0M1237.1 465.1h0M1210.4 377.1h0M1236.1 447.3h0M1228.2 521.8h0M1232.4 505.8h0M1213.9 487.9h0M1231.9 505.6h0M1230.5 511.9h0M1236.4 370.3h0M1205.6 508.6h0M1215.9 520.0h0M1225.3 535.7h0M1233.4 473.7h0M1223.7 542.4h0M1161.1 432.2h0M1211.7 489.4h0M1262.5 353.7h0M1230.6 428.2h0M1227.7 527.0h0M1225.6 532.4h0M1229.8 489.4h0M1200.9 441.1h0M1238.4 238.5h0M1227.2 496.9h0M1218.8 490.4h0M1222.2 537.3h0M1265.2 436.9h0M1209.7 485.8h0M1216.4 500.9h0M1207.2 383.2h0M1252.8 274.7h0M1221.5 529.7h0M1216.1 526.0h0M1211.4 336.0h0M1219.6 525.6h0M1225.6 521.8h0M1257.7 341.7h0M1205.0 462.8h0M1213.6 495.9h0M1189.1 439.7h0M1207.1 422.2h0M1184.8 429.1h0M1229.1 492.4h0M1234.2 412.9h0M1248.3 358.3h0M1210.1 521.5h0M1203.8 427.8h0M1219.3 500.6h0M1228.2 480.4h0M1223.1 539.7h0M1180.8 519.0h0M1203.5 453.5h0M1240.8 492.5h0M1216.0 472.4h0M1227.0 507.0h0M1223.4 541.0h0M1202.0 433.7h0M1206.5 490.0h0M1224.7 539.6h0M1199.4 421.7h0M1206.0 396.0h0M1224.1 540.7h0M1229.1 505.7h0M1219.2 519.0h0M1199.0 446.8h0M1233.7 505.9h0M1239.4 437.3h0M1229.3 522.8h0M1222.4 537.8h0M1242.7 421.2h0M1205.4 449.1h0M1225.8 527.8h0M1233.2 511.9h0M1209.0 529.5h0M1218.4 459.8h0M1215.1 501.5h0M1233.2 426.6h0M1229.7 437.2h0M1229.6 511.1h0M1202.9 500.3h0M1224.9 535.2h0M1230.1 459.0h0M1231.8 315.0h0M1231.9 501.5h0M1224.0 541.5h0M1227.0 514.1h0M1232.3 290.6h0M1234.5 510.8h0M1217.6 516.0h0M1223.1 539.9h0M1229.4 500.1h0M1230.4 460.8h0M1233.6 360.9h0M1220.8 517.6h0M1224.4 539.5h0M1224.9 534.7h0M1227.4 508.9h0M1220.5 490.4h0M1234.0 506.8h0M1230.9 416.8h0M1190.5 300.2h0M1229.8 478.8h0M1227.8 521.4h0M1223.0 540.6h0M1182.7 366.3h0M1221.8 530.7h0M1211.3 484.5h0M1225.5 527.3h0M1166.3 431.4h0M1225.0 537.9h0M1206.1 470.4h0M1229.4 488.9h0M1226.7 532.1h0M1225.8 520.0h0M1224.8 536.4h0M1231.0 505.0h0M1199.0 368.2h0M1219.4 517.5h0M1250.8 484.0h0M1214.7 511.0h0M1194.1 507.1h0M1221.1 533.2h0M1210.5 506.2h0M1226.2 529.0h0M1222.4 536.6h0M1221.1 515.9h0M1232.4 502.9h0M1209.8 492.1h0M1235.1 276.8h0M1232.7 523.8h0M1205.8 510.0h0M1239.0 448.0h0M1182.9 448.2h0M1225.1 533.2h0M1230.9 366.1h0M1219.3 502.3h0M1201.2 427.0h0M1233.8 325.8h0M1224.1 541.2h0M1226.5 519.6h0M1229.0 478.5h0M1235.5 474.4h0M1228.0 477.4h0M1239.2 464.3h0M1224.9 534.9h0M1221.9 535.6h0M1216.6 521.3h0M1232.0 392.7h0M1221.2 528.5h0M1229.3 459.6h0M1221.1 535.3h0M1233.2 509.8h0M1223.6 542.3h0M1220.6 502.9h0M1217.6 533.3h0M1220.8 532.7h0M1228.4 464.2h0M1225.5 524.7h0M1214.7 498.9h0M1170.7 432.6h0M1221.4 535.2h0M1212.0 479.7h0M1233.6 332.4h0M1251.1 468.4h0M1231.5 518.7h0M1214.5 482.5h0M1205.0 508.5h0M1233.6 264.3h0M1225.9 531.2h0M1254.7 483.6h0M1226.8 521.2h0M1239.8 481.4h0M1234.3 467.6h0M1199.9 470.1h0M1225.7 532.5h0M1239.6 470.3h0M1214.5 518.0h0M1233.1 502.5h0M1216.9 492.7h0M1245.7 241.0h0M1235.4 498.6h0M1224.5 538.1h0M1246.5 350.3h0M1233.8 464.0h0M1208.0 499.8h0M1228.2 520.9h0M1234.1 485.7h0M1240.1 447.7h0M1215.5 525.2h0M1251.1 456.3h0M1208.9 474.4h0M1226.6 521.6h0M1238.9 433.6h0M1203.9 372.5h0M1175.2 387.6h0M1221.0 528.1h0M1237.8 458.8h0M1220.4 519.8h0M1218.8 507.0h0M1239.5 438.5h0M1231.2 480.6h0M1227.1 528.7h0M1235.2 486.6h0M1227.6 493.4h0M1226.6 534.8h0M1204.0 473.7h0M1226.3 534.7h0M1232.2 501.9h0M1226.4 527.4h0M1244.7 190.6h0M1223.1 540.5h0M1232.3 405.9h0M1217.1 510.1h0M1226.2 524.4h0M1236.8 479.4h0M1217.9 522.6h0M1226.5 515.7h0M1226.6 517.4h0M1231.1 531.4h0M1220.8 528.7h0M1227.7 524.7h0M1233.0 514.4h0M1228.9 517.2h0M1188.1 451.1h0M1219.2 522.0h0M1215.1 364.2h0M1237.5 396.5h0M1235.6 514.4h0M1212.3 505.7h0M1230.4 461.4h0M1213.9 506.0h0M1232.3 476.8h0M1227.6 491.8h0M1212.4 509.4h0M1211.8 506.0h0M1237.2 466.9h0M1220.0 520.5h0M1216.0 524.5h0M1218.8 528.3h0M1208.1 485.6h0M1247.9 323.3h0M1227.3 526.2h0M1193.9 461.2h0M1198.6 515.6h0M1262.0 426.2h0M1218.1 509.7h0M1226.8 495.5h0M1213.9 484.3h0M1229.1 466.1h0M1236.4 390.6h0M1217.2 432.5h0M1200.4 451.0h0M1235.3 330.1h0M1220.0 528.4h0M1224.5 537.4h0M1224.6 538.6h0M1178.5 511.5h0M1224.8 537.9h0M1209.7 484.5h0M1233.3 499.4h0M1212.5 469.5h0M1217.3 524.2h0M1247.2 247.5h0M1228.3 501.0h0M1212.9 428.4h0M1241.2 451.5h0M1225.1 537.2h0M1226.1 531.2h0M1234.5 425.5h0M1224.2 540.6h0M1194.5 490.9h0M1235.2 471.8h0M1223.9 541.8h0M1240.1 241.3h0M1218.3 499.9h0M1244.0 453.9h0M1223.5 541.8h0M1162.8 435.4h0M1236.7 423.0h0M1230.5 513.5h0M1219.6 529.7h0M1213.5 479.7h0M1223.9 542.0h0M1224.6 537.0h0M1227.7 507.8h0M1238.1 490.5h0M1230.3 512.4h0M1272.9 343.2h0M1213.3 521.0h0M1226.5 533.8h0M1223.7 542.4h0M1221.4 536.8h0M1225.9 534.3h0M1204.3 291.5h0M1230.6 470.5h0M1230.9 455.4h0M1203.5 482.1h0M1237.9 277.3h0M1203.9 468.5h0M1225.6 529.4h0M1231.4 503.1h0M1218.3 470.7h0M1232.2 440.3h0M1228.3 447.6h0M1224.2 540.3h0M1244.5 428.9h0M1225.3 533.9h0M1217.6 470.7h0M1219.0 528.0h0M1229.9 527.2h0M1208.0 500.0h0M1257.6 454.0h0M1229.0 512.5h0M1222.2 534.1h0M1235.5 438.9h0M1223.7 542.4h0M1276.0 428.5h0M1223.7 542.4h0M1217.7 502.6h0M1223.9 541.8h0M1215.9 524.1h0M1229.2 466.2h0M1224.4 538.9h0M1228.8 467.6h0M1219.3 507.2h0M1234.0 343.7h0M1243.0 443.2h0M1216.9 432.3h0M1225.1 533.0h0M1215.6 390.6h0M1222.0 537.5h0M1225.4 535.3h0M1236.4 368.8h0M1241.7 402.0h0M1230.2 498.7h0M1230.1 506.1h0M1216.1 505.8h0M1212.5 512.3h0M1213.5 493.8h0M1244.3 494.3h0M1228.9 503.4h0M1220.4 501.1h0M1214.3 507.1h0M1228.0 480.8h0M1214.1 512.0h0M1221.3 537.1h0M1224.8 534.2h0M1231.2 440.3h0M1243.7 516.4h0M1257.7 330.9h0M1208.7 390.6h0M1194.5 499.6h0M1201.6 407.0h0M1219.1 504.2h0M1220.5 526.1h0M1231.7 383.2h0M1225.1 534.3h0M1219.9 505.8h0M1238.0 507.2h0M1232.9 518.3h0M1212.0 495.1h0M1232.1 441.5h0M1207.6 380.3h0M1223.2 539.5h0M1224.1 540.5h0M1227.3 504.5h0M1217.9 428.1h0M1240.2 281.7h0M1221.6 532.5h0M1213.8 305.7h0M1219.1 450.3h0M1227.6 506.0h0M1198.3 507.8h0M1232.8 304.4h0M1236.5 502.5h0M1217.7 493.6h0M1226.9 508.6h0M1224.0 541.2h0M1226.6 524.6h0M1232.2 496.8h0M1220.9 526.6h0M1226.6 521.0h0M1223.6 541.9h0M1194.2 424.5h0M1198.6 298.7h0M1237.3 479.0h0M1220.1 507.5h0M1221.8 531.7h0M1226.9 495.0h0M1231.2 527.2h0M1216.9 522.2h0M1223.4 541.4h0M1220.8 529.4h0M1227.6 491.2h0M1216.5 492.2h0M1225.3 536.1h0M1232.1 470.2h0M1231.8 500.7h0M1225.4 530.4h0M1219.6 532.0h0M1218.3 435.3h0M1206.8 409.3h0M1225.9 519.7h0M1217.6 515.5h0M1227.2 518.4h0M1233.0 465.2h0M1233.4 437.8h0M1229.0 494.9h0M1226.7 535.4h0M1206.2 504.5h0M1233.4 489.1h0M1222.8 536.8h0M1239.9 494.6h0M1210.4 454.9h0M1216.3 503.4h0M1225.8 532.7h0M1212.8 487.9h0M1214.7 504.9h0M1241.4 448.9h0M1207.6 406.6h0M1227.1 532.4h0M1213.7 478.6h0M1224.7 536.2h0M1257.0 490.8h0M1217.1 477.3h0M1228.7 508.4h0M1224.7 538.1h0M1233.0 483.0h0M1219.4 523.1h0M1233.3 446.9h0M1236.1 441.6h0M1217.4 448.8h0M1224.5 538.9h0M1239.1 364.9h0M1243.6 490.3h0M1233.0 500.3h0M1223.3 541.2h0M1226.9 529.3h0M1213.6 464.5h0M1206.3 502.6h0M1209.9 333.4h0M1226.9 509.1h0M1225.6 532.5h0M1224.9 536.9h0M1226.9 516.2h0M1228.7 526.6h0M1150.3 433.6h0M1201.8 492.3h0M1226.2 534.3h0M1230.1 478.1h0M1223.8 542.3h0M1229.4 508.8h0M1212.3 516.9h0M1227.7 519.3h0M1231.0 514.3h0M1217.2 476.3h0M1226.1 525.3h0M1223.2 541.0h0M1213.5 456.9h0M1239.7 464.5h0M1234.7 398.5h0M1242.7 321.8h0M1236.8 457.4h0M1226.5 532.0h0M1208.4 387.9h0M1199.0 521.0h0M1228.9 489.5h0M1228.1 457.2h0M1227.8 526.8h0M1212.3 423.0h0M1250.7 435.8h0M1235.8 489.0h0M1199.1 399.6h0M1227.6 521.2h0M1230.9 478.3h0M1218.5 519.1h0M1224.5 537.2h0M1229.4 519.6h0M1225.1 534.6h0M1245.2 446.4h0M1157.5 483.4h0M1228.2 532.3h0M1220.8 535.7h0M1227.5 516.0h0M1237.1 404.6h0M1227.5 514.6h0M1225.8 529.6h0M1214.9 510.7h0M1200.5 385.3h0M1237.2 477.6h0M1197.7 351.0h0M1221.9 530.0h0M1236.0 349.7h0M1211.8 431.1h0M1198.5 350.3h0M1212.5 516.9h0M1212.7 452.7h0M1235.9 428.9h0M1212.6 407.5h0M1200.5 457.6h0M1219.1 523.4h0M1227.3 504.7h0M1224.8 534.1h0M1247.6 331.7h0M1203.1 465.9h0M1222.0 536.8h0M1241.5 504.2h0M1226.6 528.0h0M1257.0 449.1h0M1225.8 533.7h0M1234.6 500.6h0M1225.8 519.7h0M1219.8 534.9h0M1227.1 512.1h0M1235.2 388.9h0M1232.5 362.5h0M1242.8 483.0h0M1226.8 515.5h0M1228.8 465.2h0M1216.4 502.1h0M1216.2 491.6h0M1242.8 465.4h0M1219.7 492.8h0M1233.2 494.3h0M1209.4 496.5h0M1215.7 469.3h0M1235.4 486.6h0M1223.3 540.5h0M1227.5 523.7h0M1206.8 388.2h0M1171.8 397.4h0M1164.0 377.3h0M1232.0 523.5h0M1227.4 529.1h0M1254.9 406.7h0M1222.2 533.9h0M1230.5 473.9h0M1214.4 522.7h0M1232.6 470.3h0M1221.6 535.4h0M1212.6 513.2h0M1195.4 392.7h0M1227.2 525.6h0M1221.2 525.2h0M1209.2 510.4h0M1216.7 457.3h0M1229.9 407.2h0M1227.7 527.3h0M1227.7 472.5h0M1236.5 520.4h0M1219.0 510.4h0M1208.9 472.8h0M1231.6 373.0h0M1234.9 520.6h0M1225.0 533.1h0M1244.2 473.7h0M1231.4 428.0h0M1221.9 538.3h0M1230.2 507.6h0M1235.6 479.1h0M1206.3 422.8h0M1240.0 388.4h0M1239.0 504.4h0M1211.9 479.7h0M1221.2 533.0h0M1235.1 475.2h0M1227.7 469.0h0M1230.5 429.2h0M1227.5 516.3h0M1204.9 470.5h0M1249.2 457.6h0M1236.2 468.6h0M1231.2 525.3h0M1208.9 432.2h0M1234.9 458.4h0M1194.6 453.9h0M1221.3 534.6h0M1212.2 464.2h0M1212.4 496.3h0M1224.1 541.0h0M1212.3 448.2h0M1235.9 346.2h0M1216.1 381.4h0M1232.3 326.2h0M1181.7 426.0h0M1225.3 530.0h0M1239.8 408.3h0M1216.8 484.8h0M1234.6 489.0h0M1215.0 495.7h0M1225.5 532.8h0M1216.3 457.9h0M1223.0 538.6h0M1228.2 522.8h0M1230.4 370.8h0M1215.2 499.7h0M1220.2 530.0h0M1228.9 436.8h0M1220.9 519.3h0M1220.8 528.6h0M1210.6 345.9h0M1225.9 533.1h0M1242.2 349.8h0M1218.5 511.7h0M1235.2 352.6h0M1218.5 520.4h0M1196.7 373.1h0M1265.2 404.2h0M1237.7 383.9h0M1201.0 449.9h0M1224.9 533.3h0M1217.5 530.4h0M1220.3 500.8h0M1222.2 531.7h0M1233.3 516.5h0M1222.7 536.7h0M1224.3 540.1h0M1214.5 492.8h0M1224.9 533.5h0M1236.2 483.6h0M1241.2 382.9h0M1209.3 496.8h0M1225.6 530.2h0M1223.5 541.7h0M1221.6 535.8h0M1262.5 469.2h0M1227.3 527.0h0M1218.7 493.3h0M1223.9 542.0h0M1199.5 487.7h0M1204.6 492.8h0M1228.5 483.0h0M1227.7 523.1h0M1229.4 505.6h0M1210.2 493.5h0M1229.4 461.7h0M1226.3 513.0h0M1221.2 535.0h0M1232.0 507.0h0M1236.9 372.0h0M1226.6 514.2h0M1198.0 516.2h0M1246.3 514.4h0M1220.8 533.2h0M1233.0 474.7h0M1219.5 474.6h0M1227.8 512.3h0M1224.3 539.4h0M1232.4 402.9h0M1242.1 444.7h0M1226.1 524.9h0M1241.3 503.6h0M1240.7 470.8h0M1226.1 521.4h0M1230.2 512.1h0M1212.4 495.1h0M1219.4 536.1h0M1235.5 445.6h0M1220.0 516.6h0M1226.7 526.2h0M1219.2 514.5h0M1213.3 501.2h0M1221.4 531.5h0M1220.0 494.0h0M1250.7 352.7h0M1226.2 516.1h0M1222.6 537.0h0M1241.1 287.8h0M1218.1 524.9h0M1207.8 373.3h0M1239.3 389.0h0M1215.0 501.3h0M1224.8 538.2h0M1237.2 417.3h0M1209.3 519.1h0M1221.9 527.3h0M1233.9 494.0h0M1226.4 514.4h0M1215.1 461.6h0M1231.3 428.3h0M1220.3 529.9h0M1230.0 448.2h0M1222.2 533.7h0M1222.4 535.3h0M1219.0 489.2h0M1219.6 530.7h0M1211.3 496.4h0M1232.5 474.2h0M1231.5 445.0h0M1233.5 467.7h0M1226.8 525.8h0M1255.0 382.0h0M1235.7 498.2h0M1220.4 524.8h0M1229.1 483.2h0M1226.0 522.0h0M1232.1 377.0h0M1224.2 539.8h0M1234.2 488.6h0M1214.0 479.9h0M1227.0 501.4h0M1222.7 536.5h0M1223.2 539.4h0M1224.4 537.9h0M1258.1 484.9h0M1218.8 515.5h0M1233.2 501.5h0M1219.4 510.1h0M1205.5 431.4h0M1240.2 461.9h0M1234.6 432.4h0M1209.3 512.9h0M1234.3 382.4h0M1225.4 529.6h0M1231.1 391.2h0M1219.0 510.1h0M1225.9 526.5h0M1221.8 534.9h0M1225.3 528.6h0M1235.4 512.8h0M1240.6 421.7h0M1209.0 488.7h0M1227.6 532.2h0M1224.6 537.1h0M1232.7 435.0h0M1214.4 457.7h0M1214.1 530.8h0M1233.6 498.6h0M1198.2 447.7h0M1228.7 482.1h0M1235.2 393.0h0M1232.0 523.2h0M1229.1 514.1h0M1213.1 482.1h0M1233.7 413.7h0M1209.1 501.4h0M1183.0 496.7h0M1230.1 508.5h0M1223.8 542.1h0M1209.3 456.0h0M1227.4 509.1h0M1202.3 458.6h0M1230.5 361.6h0M1235.4 461.7h0M1240.1 282.6h0M1227.7 526.2h0M1207.7 497.4h0M1228.2 517.8h0M1220.7 530.2h0M1233.2 465.6h0M1236.1 434.8h0M1209.9 468.5h0M1221.7 534.2h0M1218.3 527.8h0M1189.4 425.2h0M1236.4 452.5h0M1242.7 242.5h0M1227.9 520.6h0M1207.8 398.9h0M1224.9 536.0h0M1209.2 500.5h0M1213.6 498.7h0M1228.8 471.7h0M1202.4 431.6h0M1228.5 525.5h0M1219.5 481.9h0M1232.6 391.1h0M1194.8 470.1h0M1194.5 423.6h0M1240.8 473.2h0M1215.0 511.2h0M1197.9 218.7h0M1219.5 504.6h0M1227.2 511.4h0M1246.9 503.4h0M1216.7 442.8h0M1204.4 523.8h0M1230.7 498.2h0M1231.0 473.2h0M1221.1 530.0h0M1234.1 460.6h0M1247.2 464.9h0M1240.7 370.8h0M1227.7 530.1h0M1217.7 494.1h0M1219.3 498.0h0M1245.3 418.4h0M1233.4 440.5h0M1239.4 457.4h0M1213.4 461.8h0M1213.0 492.9h0M1216.4 432.7h0M1215.1 466.5h0M1196.8 493.8h0M1215.4 499.8h0M1189.6 374.0h0M1222.7 536.5h0M1231.0 447.5h0M1243.9 445.7h0M1226.5 523.8h0M1221.9 529.3h0M1215.3 506.1h0M1229.7 516.7h0M1220.5 534.6h0M1227.8 503.4h0M1196.4 451.3h0M1227.0 524.4h0M1227.4 530.7h0M1207.9 444.1h0M1235.1 492.9h0M1248.4 422.1h0M1207.9 381.6h0M1230.0 505.3h0M1236.2 434.7h0M1215.1 474.1h0M1229.8 505.5h0M1241.5 508.5h0M1221.7 530.3h0M1237.8 435.9h0M1260.2 439.0h0M1218.2 527.0h0M1230.5 430.1h0M1227.3 520.0h0M1209.3 494.0h0M1239.2 481.9h0M1213.8 422.6h0M1217.3 526.0h0M1221.9 536.7h0M1218.5 430.4h0M1209.4 232.8h0M1230.1 518.4h0M1224.6 539.7h0M1226.0 529.9h0M1205.4 344.8h0M1222.3 534.2h0M1231.9 477.5h0M1233.9 484.6h0M1238.8 382.4h0M1239.7 490.3h0M1221.0 529.4h0M1234.7 500.6h0M1247.5 424.5h0M1225.5 536.1h0M1218.4 465.8h0M1204.2 486.3h0M1203.7 425.5h0M1210.1 497.7h0M1234.3 511.4h0M1219.5 498.9h0M1226.6 517.5h0M1205.6 382.8h0M1229.6 494.4h0M1221.5 534.0h0M1222.5 538.4h0M1199.1 482.4h0M1240.5 490.2h0M1206.1 321.0h0M1225.8 521.9h0M1235.5 445.3h0M1217.7 508.1h0M1221.6 532.5h0M1233.1 325.1h0M1234.5 435.0h0M1179.9 466.0h0M1218.4 498.2h0M1234.1 499.1h0M1219.8 526.6h0M1214.9 408.8h0M1218.5 479.2h0M1217.6 489.9h0M1200.4 377.8h0M1216.7 515.8h0M1224.2 540.9h0M1233.4 457.5h0M1214.5 486.7h0M1227.1 519.6h0M1228.1 511.3h0M1235.4 420.2h0M1247.3 468.3h0M1216.1 490.3h0M1236.3 489.3h0M1230.4 516.0h0M1216.1 403.8h0M1222.3 538.1h0M1179.4 452.9h0M1219.6 482.1h0M1209.5 341.8h0M1220.0 519.1h0M1226.0 530.7h0M1219.2 522.2h0M1234.7 508.2h0M1214.8 403.7h0M1224.4 539.7h0M1196.7 382.4h0M1224.7 536.3h0M1217.9 454.9h0M1228.7 515.4h0M1224.8 536.5h0M1189.3 342.4h0M1227.3 525.0h0M1219.6 472.2h0M1205.0 447.5h0M1221.2 526.6h0M1217.3 525.0h0M1226.5 514.6h0M1230.6 415.8h0M1225.7 523.4h0M1221.2 518.7h0M1211.0 498.2h0M1175.2 400.3h0M1232.3 441.5h0M1234.5 255.2h0M1226.7 529.1h0M1221.4 520.4h0M1236.5 418.0h0M1203.3 364.0h0M1218.5 524.6h0M1236.1 436.5h0M1213.5 516.5h0M1222.8 536.6h0M1213.4 486.4h0M1215.2 518.4h0M1231.0 518.1h0M1207.9 398.7h0M1196.1 464.4h0M1202.4 455.7h0M1234.8 459.6h0M1221.5 536.9h0M1225.0 531.5h0M1251.8 479.9h0M1236.1 516.6h0M1228.5 513.4h0M1209.7 434.1h0M1198.7 460.5h0M1227.4 506.4h0M1208.0 446.6h0M1219.6 502.5h0M1216.4 522.8h0M1237.7 480.3h0M1238.9 461.4h0M1243.1 468.3h0M1223.9 541.8h0M1216.4 519.2h0M1221.9 525.5h0M1227.1 514.9h0M1240.7 445.0h0M1203.8 460.9h0M1219.9 516.9h0M1225.3 530.8h0M1218.5 506.4h0M1203.1 517.0h0M1229.8 514.0h0M1228.6 490.5h0M1199.6 485.8h0M1225.6 529.1h0M1233.1 518.1h0M1227.3 512.0h0M1198.8 216.1h0M1219.5 511.8h0M1234.8 455.8h0M1204.3 492.6h0M1213.7 508.2h0M1228.6 505.0h0M1231.0 504.8h0M1193.5 394.0h0M1226.0 530.0h0M1226.2 534.3h0M1226.2 512.6h0M1233.4 295.0h0M1228.7 520.0h0M1228.8 518.1h0M1234.8 365.0h0M1220.2 524.7h0M1201.8 472.8h0M1211.1 294.1h0M1224.9 533.9h0M1223.3 540.6h0M1228.3 524.9h0M1227.3 526.7h0M1239.7 503.4h0M1209.7 390.9h0M1217.7 465.2h0M1237.0 410.5h0M1213.3 481.0h0M1226.1 531.7h0M1235.2 499.2h0M1221.1 530.3h0M1193.7 399.6h0M1229.1 507.7h0M1206.8 363.1h0M1207.4 440.9h0M1226.4 534.9h0M1187.1 472.9h0M1248.8 437.8h0M1226.4 515.2h0M1219.9 480.0h0M1232.5 339.2h0M1221.3 526.6h0M1229.7 501.8h0M1222.7 537.0h0M1227.1 511.7h0M1207.0 521.1h0M1215.9 481.4h0M1236.4 372.0h0M1229.8 515.7h0M1230.3 486.9h0M1230.3 513.1h0M1240.5 320.3h0M1227.7 484.2h0M1221.0 526.0h0M1223.2 540.9h0M1237.2 445.0h0M1219.5 532.0h0M1214.8 526.0h0M1193.7 391.3h0M1221.0 518.7h0M1219.5 532.2h0M1225.4 533.8h0M1226.4 520.2h0M1218.5 475.6h0M1221.3 519.6h0M1219.5 534.1h0M1220.8 534.8h0M1218.4 504.2h0M1216.0 461.0h0M1219.1 515.0h0M1235.2 489.1h0M1226.9 522.8h0M1232.0 454.3h0M1207.4 218.2h0M1254.5 258.2h0M1205.5 507.2h0M1236.0 453.6h0M1218.5 529.3h0M1245.2 456.0h0M1222.2 538.6h0M1230.1 511.4h0M1223.5 541.7h0M1205.1 481.4h0M1211.8 521.3h0M1215.2 529.0h0M1215.4 519.1h0M1229.9 506.3h0M1221.6 532.5h0M1237.6 430.1h0M1235.1 499.9h0M1219.3 522.4h0M1223.4 541.3h0M1242.0 486.9h0M1212.6 453.1h0M1238.3 297.6h0M1170.2 507.7h0M1238.3 512.3h0M1226.5 504.0h0M1238.5 468.9h0M1223.5 541.6h0M1229.0 467.9h0M1218.5 503.2h0M1233.4 477.5h0M1211.4 474.4h0M1221.6 537.4h0M1219.1 533.6h0M1228.7 471.1h0M1232.9 492.8h0M1232.5 503.7h0M1228.3 471.2h0M1218.1 523.6h0M1190.3 428.8h0M1233.8 477.4h0M1206.8 512.6h0M1227.8 505.3h0M1220.5 512.9h0M1219.2 485.9h0M1206.1 505.8h0M1226.8 525.9h0M1229.7 512.9h0M1232.4 500.1h0M1220.4 499.4h0M1198.3 462.3h0M1219.0 494.2h0M1222.9 538.5h0M1240.2 450.4h0M1215.9 509.7h0M1216.1 534.8h0M1232.5 495.1h0M1187.1 319.0h0M1232.1 467.1h0M1219.8 523.1h0M1166.3 446.6h0M1237.8 316.5h0M1226.7 530.6h0M1221.1 523.1h0M1262.1 363.9h0M1224.9 538.2h0M1217.6 521.0h0M1193.0 423.3h0M1230.0 485.2h0M1231.1 490.5h0M1221.4 521.4h0M1227.3 500.1h0M1223.0 539.6h0M1225.2 538.0h0M1207.9 495.2h0M1218.0 522.3h0M1223.0 539.7h0M1224.5 537.8h0M1210.8 513.3h0M1227.7 500.3h0M1219.3 487.8h0M1231.1 531.4h0M1162.9 376.9h0M1226.9 520.9h0M1218.2 513.4h0M1217.9 490.9h0M1226.1 526.9h0M1241.4 398.6h0M1243.6 393.0h0M1223.2 540.3h0M1228.7 493.2h0M1224.7 535.1h0M1214.5 314.9h0M1217.3 500.6h0M1197.1 474.5h0M1226.8 529.8h0M1215.8 375.7h0M1232.0 521.8h0M1227.3 519.5h0M1229.9 509.6h0M1225.1 536.9h0M1231.3 495.2h0M1229.6 479.9h0M1221.7 536.5h0M1224.9 537.5h0M1224.2 540.1h0M1220.4 526.8h0M1222.5 537.9h0M1234.9 495.5h0M1231.2 475.3h0M1220.6 536.5h0M1219.1 534.7h0M1235.2 463.3h0M1207.1 497.6h0M1238.9 392.0h0M1225.7 525.1h0M1215.9 429.1h0M1228.5 473.2h0M1237.6 403.6h0M1249.0 479.8h0M1249.8 434.1h0M1229.6 399.0h0M1206.3 462.0h0M1219.6 480.1h0M1200.5 490.1h0M1248.1 381.8h0M1240.6 391.5h0M1217.8 509.1h0M1227.9 483.5h0M1221.8 535.4h0M1195.7 341.6h0M1207.8 500.0h0M1218.2 530.7h0M1230.8 531.6h0M1238.7 463.9h0M1247.4 323.5h0M1221.3 530.0h0M1207.0 501.7h0M1226.9 508.7h0M1228.6 528.8h0M1223.3 540.9h0M1223.3 540.7h0M1222.8 538.0h0M1213.6 497.2h0M1229.4 527.6h0M1217.0 486.8h0M1222.2 537.0h0M1235.0 389.4h0M1237.3 288.4h0M1228.9 510.4h0M1207.3 495.9h0M1233.6 501.8h0M1259.3 470.4h0M1235.5 380.3h0M1197.5 485.5h0M1237.3 424.4h0M1221.6 535.9h0M1238.5 495.4h0M1228.0 490.6h0M1192.9 421.9h0M1232.5 520.6h0M1231.8 429.0h0M1222.4 535.0h0M1219.8 524.8h0M1207.8 483.6h0M1228.2 463.9h0M1226.9 515.0h0M1221.0 514.5h0M1240.7 418.7h0M1219.4 505.6h0M1203.7 460.1h0M1214.6 520.8h0M1213.8 523.6h0M1202.3 458.5h0M1201.4 460.2h0M1219.2 518.0h0M1241.9 203.9h0M1223.2 540.9h0M1209.1 512.8h0M1237.2 395.0h0M1238.1 426.9h0M1225.1 531.6h0M1225.2 532.3h0M1224.7 538.1h0M1228.2 515.5h0M1225.1 536.2h0M1221.1 515.8h0M1211.3 516.4h0M1238.1 411.3h0M1242.8 448.9h0M1230.0 459.5h0M1224.1 541.2h0M1212.0 500.9h0M1230.7 457.6h0M1207.1 492.9h0M1229.2 476.8h0M1230.6 500.7h0M1219.7 508.2h0M1229.9 486.9h0M1228.1 533.0h0M1209.9 462.8h0M1205.1 473.9h0M1225.3 529.1h0M1231.3 485.0h0M1222.5 537.6h0M1224.4 538.9h0M1234.4 452.7h0M1220.7 529.9h0M1228.9 525.0h0M1224.2 540.3h0M1243.8 353.1h0M1236.8 449.3h0M1227.8 527.5h0M1225.1 536.7h0M1227.5 523.6h0M1207.1 195.1h0M1227.4 528.1h0M1231.4 488.4h0M1227.3 503.4h0M1224.9 534.0h0M1219.8 498.9h0M1219.9 521.1h0M1240.1 497.1h0M1229.9 501.2h0M1217.8 522.7h0M1189.4 288.8h0M1220.8 533.5h0M1218.7 516.0h0M1235.4 524.2h0M1225.4 532.7h0M1204.6 489.5h0M1234.0 315.6h0M1233.2 505.4h0M1240.1 465.3h0M1233.8 365.1h0M1230.2 518.2h0M1223.5 541.9h0M1225.3 533.9h0M1199.3 204.0h0M1231.0 390.1h0M1213.6 446.4h0M1215.5 470.1h0M1228.2 519.3h0M1209.7 439.0h0M1203.4 465.7h0M1215.8 509.7h0M1217.9 528.9h0M1216.5 519.9h0M1224.1 540.9h0M1205.9 402.5h0M1254.9 327.2h0M1207.5 407.0h0M1173.9 392.0h0M1236.2 504.3h0M1217.3 448.3h0M1225.9 518.3h0M1222.9 538.9h0M1219.7 472.4h0M1208.7 310.2h0M1208.2 491.6h0M1182.4 438.8h0M1227.0 500.2h0M1246.2 361.9h0M1223.2 541.2h0M1233.1 357.4h0M1193.5 428.5h0M1223.5 541.6h0M1227.8 499.3h0M1247.6 451.8h0M1219.2 528.8h0M1212.9 357.4h0M1220.6 522.9h0M1221.2 530.5h0M1215.8 504.4h0M1224.1 541.0h0M1226.8 515.3h0M1200.5 470.9h0M1224.0 541.4h0M1233.6 321.0h0M1213.7 511.5h0M1198.2 475.7h0M1231.7 444.1h0M1233.4 460.8h0M1207.2 373.8h0M1231.3 440.6h0M1228.4 517.5h0M1202.8 501.8h0M1216.4 498.4h0M1208.9 325.1h0M1209.9 458.0h0M1215.3 382.1h0M1219.9 527.7h0M1242.2 421.8h0M1212.1 511.0h0M1205.3 460.6h0M1219.7 521.1h0M1214.0 486.9h0M1211.2 531.8h0M1216.0 517.3h0M1204.8 502.5h0M1223.2 540.1h0M1218.6 533.1h0M1224.1 540.6h0M1164.9 412.2h0M1205.9 470.1h0M1223.8 542.3h0M1219.1 509.4h0M1234.9 441.7h0M1213.1 491.1h0M1209.9 489.3h0M1209.5 414.9h0M1210.4 483.1h0M1210.2 404.1h0M1225.0 536.7h0M1225.1 536.8h0M1231.2 462.4h0M1224.1 541.1h0M1217.4 508.0h0M1225.1 536.8h0M1219.3 500.9h0M1206.2 318.4h0M1237.8 391.0h0M1230.4 512.1h0M1214.7 516.9h0M1213.1 348.5h0M1231.7 459.4h0M1215.1 482.7h0M1223.9 542.0h0M1242.7 278.8h0M1237.4 466.9h0M1228.2 523.9h0M1207.2 315.6h0M1225.2 532.2h0M1226.5 530.0h0M1230.5 509.3h0M1233.1 488.1h0M1238.9 417.7h0M1223.3 540.7h0M1224.1 541.2h0M1223.2 540.8h0M1230.3 380.1h0M1229.0 513.9h0M1204.0 421.7h0M1264.0 465.8h0M1207.6 435.8h0M1230.4 444.4h0M1223.4 541.5h0M1210.8 453.7h0M1229.7 523.3h0M1223.3 540.8h0M1185.9 387.1h0M1226.0 519.1h0M1232.6 499.2h0M1228.2 512.0h0M1227.2 509.5h0M1227.6 530.4h0M1218.3 519.7h0M1232.2 373.8h0M1228.5 511.3h0M1225.8 527.7h0M1228.3 523.0h0M1267.8 403.2h0M1221.8 528.3h0M1229.6 465.2h0M1222.4 538.8h0M1218.8 527.9h0M1216.7 495.0h0M1232.4 427.7h0M1207.7 509.8h0M1258.3 393.7h0M1195.4 411.2h0M1216.6 435.5h0M1231.6 488.2h0M1252.7 475.0h0M1206.6 503.4h0M1222.7 537.8h0M1220.6 529.6h0M1208.2 392.4h0M1233.6 454.0h0M1215.0 522.1h0M1194.5 302.4h0M1215.9 528.4h0M1225.2 531.0h0M1226.8 505.5h0M1228.9 527.7h0M1229.2 522.4h0M1253.7 496.0h0M1233.5 503.0h0M1223.1 540.0h0M1212.2 446.4h0M1201.6 453.7h0M1192.8 470.7h0M1219.8 533.7h0M1225.3 534.3h0M1226.0 521.9h0M1221.8 535.1h0M1262.1 481.6h0M1251.9 239.8h0M1200.1 360.3h0M1218.7 456.7h0M1221.7 528.9h0M1204.9 322.3h0M1221.8 533.7h0M1219.2 487.0h0M1221.0 508.9h0M1213.6 511.8h0M1219.6 525.2h0M1233.9 427.4h0M1218.1 498.7h0M1218.2 526.8h0M1230.3 488.0h0M1227.5 518.0h0M1211.9 482.8h0M1224.1 540.9h0M1219.7 497.3h0M1233.7 415.2h0M1229.4 509.7h0M1232.7 402.5h0M1203.5 468.9h0M1255.7 328.9h0M1228.6 478.3h0M1244.5 368.9h0M1257.2 492.0h0M1217.9 530.0h0M1230.6 510.6h0M1233.9 294.5h0M1215.2 510.5h0M1207.2 409.5h0M1206.3 333.2h0M1226.6 518.2h0M1221.6 535.0h0M1232.3 513.5h0M1206.6 399.4h0M1239.5 472.2h0M1233.8 480.2h0M1209.7 409.8h0M1208.2 493.6h0M1226.9 529.9h0M1217.0 502.7h0M1225.4 529.2h0M1228.4 526.5h0M1237.4 277.8h0M1240.8 495.8h0M1227.6 514.0h0M1252.4 313.2h0M1211.9 369.6h0M1220.3 528.5h0M1208.1 510.8h0M1208.1 484.3h0M1230.4 445.4h0M1230.3 495.6h0M1230.3 479.8h0M1239.4 416.0h0M1233.3 420.9h0M1220.0 527.9h0M1228.2 520.0h0M1251.3 388.5h0M1222.8 538.8h0M1241.0 401.4h0M1221.4 532.0h0M1214.2 499.9h0M1221.3 525.1h0M1243.4 246.5h0M1224.5 538.8h0M1223.1 539.6h0M1213.9 491.3h0M1226.9 530.5h0M1221.1 535.4h0M1235.1 402.8h0M1251.1 317.9h0M1229.4 516.3h0M1210.2 502.6h0M1234.1 285.5h0M1196.5 477.2h0M1229.1 515.2h0M1243.1 484.2h0M1206.0 453.6h0M1224.8 538.7h0M1221.3 520.7h0M1197.0 463.3h0M1228.5 500.0h0M1230.0 508.2h0M1208.1 394.0h0M1212.5 408.9h0M1211.9 456.5h0M1224.1 540.9h0M1212.8 256.9h0M1216.1 488.3h0M1232.7 508.9h0M1224.0 541.4h0M1212.5 399.8h0M1235.3 477.7h0M1231.8 336.2h0M1224.8 535.1h0M1221.9 528.4h0M1205.7 475.2h0M1212.1 496.5h0M1238.4 304.5h0M1235.7 449.2h0M1247.5 268.3h0M1220.1 530.7h0M1222.9 538.2h0M1229.7 489.9h0M1229.6 443.3h0M1235.5 422.4h0M1228.7 493.7h0M1223.1 539.7h0M1216.6 521.1h0M1230.8 516.3h0M1200.2 442.1h0M1214.2 413.0h0M1217.3 510.5h0M1226.6 511.2h0M1228.8 444.9h0M1213.2 489.5h0M1231.6 435.0h0M1225.6 526.9h0M1225.6 529.9h0M1223.0 539.3h0M1215.5 513.4h0M1219.0 509.1h0M1209.7 465.1h0M1216.8 511.9h0M1219.6 527.1h0M1239.8 516.6h0M1221.0 513.0h0M1212.9 470.6h0M1232.4 327.1h0M1188.0 502.0h0M1222.6 536.6h0M1221.3 523.6h0M1231.8 473.8h0M1243.4 436.5h0M1240.5 402.7h0M1239.5 430.8h0M1211.6 511.4h0M1229.4 436.8h0M1222.6 536.7h0M1226.3 533.0h0M1218.4 498.5h0M1225.7 535.8h0M1230.2 504.2h0M1236.2 498.4h0M1239.9 481.0h0M1220.5 527.9h0M1220.7 524.0h0M1229.2 483.8h0M1232.0 497.5h0M1238.8 450.8h0M1220.2 518.2h0M1219.1 506.8h0M1224.9 533.5h0M1244.1 376.7h0M1229.7 518.6h0M1232.3 441.9h0M1229.4 517.7h0M1232.7 515.7h0M1230.8 513.1h0M1186.8 434.0h0M1227.0 528.5h0M1228.7 512.5h0M1230.7 398.4h0M1203.6 468.6h0M1216.9 519.4h0M1232.9 467.9h0M1222.8 539.5h0M1228.9 512.9h0M1228.4 493.8h0M1220.9 513.0h0M1209.9 430.7h0M1219.8 511.2h0M1223.7 542.3h0M1217.7 527.1h0M1211.7 453.4h0M1227.3 520.8h0M1221.2 531.5h0M1227.0 528.0h0M1232.8 448.5h0M1228.2 510.6h0M1232.7 511.0h0M1237.1 476.9h0M1229.4 490.6h0M1225.0 532.2h0M1218.4 482.8h0M1205.3 374.5h0M1239.1 463.5h0M1211.8 380.2h0M1249.3 512.6h0M1228.6 508.6h0M1217.0 521.7h0M1204.4 472.7h0M1189.8 493.0h0M1239.3 459.1h0M1231.0 521.6h0M1217.6 518.6h0M1215.5 510.4h0M1236.9 521.5h0M1225.9 531.9h0M1219.5 527.2h0M1224.5 539.0h0M1225.3 534.2h0M1224.8 535.9h0M1220.1 532.9h0M1222.9 537.5h0M1252.5 474.9h0M1231.4 431.0h0M1225.9 535.6h0M1198.7 501.6h0M1206.2 510.8h0M1216.9 489.5h0M1231.5 398.5h0M1225.0 537.2h0M1234.9 457.8h0M1239.9 412.2h0M1241.4 485.7h0M1222.2 530.5h0M1219.2 512.8h0M1215.8 456.4h0M1226.5 525.9h0M1226.3 521.2h0M1190.0 403.1h0M1200.2 281.7h0M1237.5 399.8h0M1217.7 430.3h0M1254.7 290.7h0M1230.1 447.2h0M1199.7 427.4h0M1225.1 531.5h0M1225.6 525.0h0M1203.1 411.0h0M1226.8 501.4h0M1213.8 459.4h0M1255.6 344.9h0M1218.7 517.8h0M1222.2 530.4h0M1245.3 439.5h0M1222.0 537.3h0M1205.5 408.1h0M1228.9 519.9h0M1234.0 451.2h0M1185.1 504.5h0M1162.3 403.8h0M1240.4 514.5h0M1228.1 509.7h0M1193.1 425.2h0M1203.1 499.6h0M1222.6 535.0h0M1209.6 422.5h0M1237.3 474.0h0M1232.0 370.5h0M1227.3 492.5h0M1214.4 501.3h0M1222.8 536.2h0M1227.2 521.7h0M1216.2 503.3h0M1255.8 461.2h0M1236.7 417.0h0M1218.2 490.1h0M1224.2 540.4h0M1175.9 442.8h0M1225.1 535.1h0M1223.5 541.7h0M1220.5 531.3h0M1196.5 304.5h0M1208.8 437.7h0M1207.6 495.9h0M1240.9 404.9h0M1175.4 468.3h0M1226.8 527.4h0M1238.6 440.5h0M1233.2 514.7h0M1238.1 395.5h0M1226.0 517.5h0M1225.8 529.2h0M1231.8 478.8h0M1230.1 503.3h0M1225.3 533.5h0M1191.1 480.1h0M1224.2 540.5h0M1223.7 542.4h0M1221.8 527.2h0M1226.9 520.2h0M1219.7 498.0h0M1216.7 411.1h0M1225.6 536.8h0M1248.5 471.9h0M1207.3 461.9h0M1228.8 506.5h0M1221.7 531.6h0M1210.6 404.7h0M1234.8 488.2h0M1231.6 411.0h0M1202.5 478.3h0M1223.2 540.8h0M1232.3 359.5h0M1217.5 520.1h0M1238.6 485.5h0M1227.7 514.8h0M1216.3 426.1h0M1229.6 487.8h0M1224.8 536.0h0M1234.4 451.9h0M1225.4 526.5h0M1196.0 473.0h0M1226.2 513.7h0M1232.8 372.7h0M1224.9 533.7h0M1236.7 410.0h0M1234.7 474.8h0M1202.0 473.8h0M1227.4 507.9h0M1224.0 541.5h0M1221.5 518.2h0M1228.0 495.6h0M1226.4 510.4h0M1219.1 506.1h0M1224.3 540.3h0M1232.0 404.0h0M1237.5 467.3h0M1194.6 369.3h0M1231.8 513.4h0M1229.0 529.4h0M1230.1 515.8h0M1214.3 423.9h0M1221.0 534.1h0M1226.7 513.3h0M1232.9 517.2h0M1225.6 534.1h0M1233.5 436.3h0M1204.4 450.4h0M1224.9 537.7h0M1234.9 489.4h0M1243.3 486.8h0M1238.0 393.1h0M1224.6 538.9h0M1220.4 503.1h0M1228.8 453.8h0M1197.3 435.0h0M1228.9 488.7h0M1228.4 521.3h0M1232.3 449.4h0M1215.8 359.9h0M1228.3 518.2h0M1225.4 534.8h0M1231.3 496.5h0M1184.6 392.9h0M1237.4 456.1h0M1238.5 476.0h0M1210.8 301.8h0M1231.9 486.5h0M1219.7 509.5h0M1226.0 534.9h0M1191.9 416.0h0M1213.5 454.9h0M1226.1 517.1h0M1226.5 526.8h0M1230.2 482.2h0M1216.4 500.4h0M1240.9 492.5h0M1222.9 538.9h0M1203.6 427.0h0M1170.3 441.7h0M1217.0 404.5h0M1197.9 461.3h0M1227.1 525.2h0M1231.4 333.9h0M1266.7 468.1h0M1237.9 441.9h0M1221.8 532.4h0M1231.9 477.3h0M1222.7 536.0h0M1212.0 511.3h0M1231.0 479.1h0M1213.5 506.4h0M1219.1 492.2h0M1228.6 516.5h0M1220.7 529.8h0M1223.1 540.3h0M1241.2 441.2h0M1224.9 533.5h0M1226.5 523.7h0M1213.5 518.0h0M1222.1 532.9h0M1210.2 501.3h0M1230.6 369.7h0M1225.3 537.3h0M1244.9 425.1h0M1229.1 498.3h0M1231.2 388.7h0M1230.6 408.3h0M1228.8 524.3h0M1228.7 527.4h0M1203.1 370.2h0M1219.8 525.1h0M1222.8 539.1h0M1227.4 518.7h0M1230.9 503.6h0M1219.3 476.9h0M1215.6 457.5h0M1224.0 541.6h0M1202.6 456.9h0M1207.2 469.5h0M1220.8 538.6h0M1239.3 478.3h0M1231.1 502.7h0M1233.5 512.1h0M1232.4 511.6h0M1228.8 510.4h0M1213.5 505.0h0M1190.6 285.5h0M1231.5 465.4h0M1241.9 416.3h0M1195.0 364.7h0M1259.0 358.2h0M1209.3 444.6h0M1210.1 389.1h0M1200.5 253.8h0M1231.5 463.7h0M1220.7 530.0h0M1198.4 454.4h0M1221.1 522.9h0M1223.6 542.2h0M1236.0 365.3h0M1189.9 397.4h0M1209.1 437.4h0M1234.1 358.0h0M1201.8 392.0h0M1215.5 527.3h0M1232.0 499.2h0M1226.0 522.0h0M1225.4 525.7h0M1214.2 502.0h0M1225.0 534.5h0M1227.6 505.7h0M1215.0 394.8h0M1247.7 457.2h0M1235.7 368.4h0M1230.0 500.9h0M1227.0 504.2h0M1226.2 514.2h0M1225.8 535.6h0M1218.9 467.0h0M1201.9 410.0h0M1218.4 447.4h0M1247.9 359.9h0M1230.3 362.8h0M1226.0 532.1h0M1241.7 429.4h0M1216.2 516.7h0M1228.0 499.5h0M1250.0 351.5h0M1225.2 533.8h0M1219.2 516.3h0M1188.6 490.0h0M1229.8 477.3h0M1221.2 536.8h0M1244.9 501.3h0M1236.8 301.0h0M1210.8 359.5h0M1233.7 477.1h0M1219.4 510.4h0M1209.6 394.2h0M1245.3 447.9h0M1204.6 471.7h0M1211.8 507.1h0M1188.7 507.6h0M1226.6 511.0h0M1235.7 435.5h0M1222.7 538.8h0M1220.3 508.9h0M1240.7 503.8h0M1237.8 443.4h0M1218.6 477.0h0M1233.6 239.2h0M1217.0 446.3h0M1224.5 537.6h0M1197.6 494.3h0M1233.2 460.3h0M1234.4 486.4h0M1220.5 512.9h0M1248.1 403.4h0M1220.3 514.4h0M1244.4 465.3h0M1208.9 475.7h0M1220.6 533.1h0M1242.4 411.5h0M1251.7 450.0h0M1233.1 487.0h0M1221.5 533.1h0M1237.9 447.4h0M1261.0 293.4h0M1230.5 525.7h0M1232.5 364.1h0M1180.1 380.5h0M1230.9 511.8h0M1219.6 519.0h0M1212.8 462.4h0M1240.2 244.2h0M1227.3 534.3h0M1245.9 479.9h0M1244.2 370.9h0M1230.9 426.5h0M1230.4 478.1h0M1188.7 366.5h0M1230.7 385.3h0M1228.3 508.6h0M1241.4 411.1h0M1214.7 464.8h0M1208.4 480.2h0M1234.8 377.2h0M1225.3 531.2h0M1217.5 500.3h0M1206.1 465.1h0M1200.9 385.3h0M1222.3 535.8h0M1200.5 392.4h0M1191.7 465.8h0M1236.9 398.4h0M1224.7 535.2h0M1221.3 526.6h0M1221.6 527.4h0M1218.4 530.4h0M1223.8 542.2h0M1235.1 510.9h0M1222.4 536.8h0M1228.3 521.8h0M1245.4 490.3h0M1226.6 518.4h0M1222.3 532.9h0M1227.6 502.1h0M1215.9 366.6h0M1200.0 220.8h0M1205.6 465.6h0M1224.9 537.0h0M1218.3 516.5h0M1234.6 315.0h0M1224.5 537.8h0M1237.3 509.3h0M1227.6 472.5h0M1217.8 512.7h0M1197.6 307.2h0M1226.9 507.5h0M1223.4 541.3h0M1232.8 429.1h0M1228.8 490.6h0M1221.0 526.3h0M1241.6 458.0h0M1233.5 499.8h0M1228.2 523.1h0M1229.6 510.3h0M1224.4 538.7h0M1271.9 327.8h0M1220.8 529.1h0M1209.3 430.3h0M1220.5 532.1h0M1228.4 519.7h0M1227.3 505.6h0M1227.8 493.0h0M1228.4 530.0h0M1218.9 451.6h0M1222.0 532.0h0M1220.5 524.9h0M1226.7 514.4h0M1199.5 203.4h0M1228.4 510.7h0M1240.6 506.0h0M1245.9 278.4h0M1201.2 312.0h0M1239.5 287.4h0M1218.5 520.3h0M1247.6 451.0h0M1191.5 372.6h0M1245.1 393.1h0M1236.2 279.2h0M1220.5 533.5h0M1217.1 510.2h0M1224.4 539.9h0M1227.2 515.1h0M1223.7 542.3h0M1222.4 533.8h0M1202.3 485.7h0M1222.3 532.6h0M1229.4 520.1h0M1240.1 489.0h0M1217.9 503.0h0M1228.2 503.4h0M1214.4 428.5h0M1218.5 514.9h0M1224.1 541.3h0M1233.0 483.0h0M1212.2 520.2h0M1219.8 521.9h0M1226.5 514.9h0M1238.8 466.7h0M1230.6 472.7h0M1216.1 518.6h0M1198.0 418.8h0M1223.4 541.4h0M1217.5 473.5h0M1214.1 382.7h0M1205.4 499.9h0M1223.6 542.0h0M1226.4 510.6h0M1241.6 450.1h0M1230.3 517.3h0M1227.8 484.1h0M1222.3 536.9h0M1212.2 496.9h0M1232.1 398.1h0M1170.7 382.6h0M1210.6 516.5h0M1225.4 537.0h0M1228.7 513.1h0M1212.7 478.6h0M1235.7 504.9h0M1226.0 523.2h0M1228.1 534.1h0M1210.2 421.7h0M1241.9 375.1h0M1241.5 450.3h0M1231.2 474.1h0M1222.2 537.9h0M1223.0 538.3h0M1230.9 503.2h0M1222.2 535.8h0M1225.0 536.8h0M1226.6 526.1h0M1238.7 483.5h0M1229.5 513.5h0M1243.2 315.2h0M1231.0 462.9h0M1221.1 521.7h0M1221.4 536.7h0M1214.0 461.8h0M1238.7 448.2h0M1229.4 405.8h0M1217.8 403.4h0M1204.5 391.9h0M1236.7 452.6h0M1227.4 523.7h0M1210.9 483.1h0M1210.5 475.2h0M1218.9 517.6h0M1223.4 541.3h0M1223.7 542.4h0M1203.0 449.7h0M1237.3 323.5h0M1213.5 328.2h0M1237.6 508.5h0M1229.9 459.9h0M1214.9 440.5h0M1212.4 523.6h0M1225.2 528.4h0M1234.9 514.7h0M1228.8 519.0h0M1224.6 536.5h0M1215.8 525.6h0M1231.8 505.4h0M1221.5 529.7h0M1225.5 537.3h0M1224.1 541.1h0M1233.0 506.6h0M1234.2 509.0h0M1241.4 358.5h0M1210.2 347.5h0M1237.6 445.3h0M1241.3 276.9h0M1203.0 449.0h0M1225.4 527.1h0M1230.0 526.6h0M1225.2 532.7h0M1208.7 473.6h0M1216.3 531.0h0M1224.4 539.0h0M1198.5 383.3h0M1218.6 499.6h0M1210.4 433.8h0M1226.7 531.8h0M1231.9 444.5h0M1255.1 416.9h0M1223.9 542.0h0M1234.8 435.9h0M1232.2 497.9h0M1240.4 412.2h0M1246.6 335.7h0M1240.7 278.2h0M1217.6 522.0h0M1203.3 436.9h0M1218.3 449.6h0M1195.4 438.9h0M1184.6 494.4h0M1217.5 505.4h0M1220.1 508.1h0M1231.5 509.3h0M1238.4 454.0h0M1228.6 471.5h0M1217.9 504.0h0M1234.2 257.3h0M1230.6 497.4h0M1214.0 432.0h0M1232.2 529.5h0M1207.7 338.4h0M1233.5 261.6h0M1200.6 490.8h0M1214.5 379.4h0M1217.5 485.8h0M1226.0 514.5h0M1225.2 536.8h0M1220.2 499.6h0M1213.0 287.8h0M1225.4 525.2h0M1252.0 399.1h0M1216.4 473.7h0M1195.4 433.9h0M1238.4 390.8h0M1209.2 387.6h0M1226.3 522.6h0M1219.6 501.2h0M1234.2 420.9h0M1235.8 452.7h0M1234.7 504.6h0M1226.7 525.4h0M1225.2 534.8h0M1242.3 472.6h0M1224.3 540.4h0M1233.7 464.4h0M1232.7 352.9h0M1214.6 482.7h0M1236.8 472.8h0M1224.6 539.2h0M1213.3 424.0h0M1226.6 517.5h0M1225.4 532.6h0M1246.8 501.7h0M1218.2 512.7h0M1225.8 529.6h0M1234.8 497.7h0M1225.4 525.4h0M1224.3 540.1h0M1234.7 510.9h0M1205.3 441.4h0M1245.5 440.4h0M1186.6 321.8h0M1229.5 400.3h0M1221.5 534.5h0M1219.3 517.3h0M1181.0 344.2h0M1228.3 488.3h0M1212.9 385.7h0M1224.7 536.7h0M1223.5 541.8h0M1229.0 503.2h0M1213.5 339.2h0M1222.3 532.3h0M1221.2 510.7h0M1234.9 420.9h0M1199.3 500.8h0M1215.8 528.7h0M1231.3 503.4h0M1225.2 535.3h0M1185.8 370.2h0M1205.5 502.8h0M1227.6 512.6h0M1222.3 539.0h0M1221.7 537.5h0M1231.9 407.3h0M1220.4 526.2h0M1215.0 491.4h0M1192.1 412.0h0M1233.3 412.2h0M1239.2 512.1h0M1216.7 515.5h0M1217.9 522.6h0M1229.1 493.2h0M1223.7 542.3h0M1231.7 519.4h0M1221.3 536.5h0M1211.7 482.8h0M1235.7 446.4h0M1224.1 540.6h0M1219.6 509.9h0M1228.4 520.7h0M1217.5 516.5h0M1222.3 538.0h0M1221.5 532.5h0M1232.8 489.2h0M1254.2 406.2h0M1234.5 482.2h0M1221.2 535.9h0M1222.9 539.3h0M1249.0 416.4h0M1218.8 524.6h0M1230.6 495.4h0M1234.4 485.3h0M1206.1 503.8h0M1226.0 531.8h0M1185.9 432.4h0M1211.7 476.5h0M1235.4 451.2h0M1225.2 532.3h0M1236.8 525.7h0M1217.5 516.8h0M1230.1 497.5h0M1231.9 506.9h0M1230.8 512.4h0M1229.2 530.2h0M1219.3 524.7h0M1219.0 530.3h0M1250.5 353.0h0M1288.3 442.0h0M1203.2 475.3h0M1209.8 364.9h0M1227.4 520.4h0M1218.7 432.1h0M1228.2 454.9h0M1196.4 435.3h0M1224.7 538.0h0M1214.0 522.7h0M1249.8 369.8h0M1217.0 447.2h0M1216.8 508.6h0M1227.8 486.7h0M1224.0 541.7h0M1216.2 475.6h0M1234.0 480.6h0M1234.5 382.4h0M1235.9 415.2h0M1227.8 479.3h0M1210.9 520.6h0M1235.2 432.5h0M1215.3 432.1h0M1222.6 533.4h0M1229.3 456.3h0M1252.0 375.0h0M1226.6 515.0h0M1234.2 473.4h0M1226.5 530.4h0M1220.9 520.0h0M1247.3 399.3h0M1219.9 511.2h0M1236.3 493.1h0M1225.6 523.8h0M1213.3 250.7h0M1215.9 466.0h0M1218.5 485.5h0M1204.7 512.5h0M1224.5 538.0h0M1222.2 533.8h0M1220.5 521.0h0M1242.1 454.0h0M1203.0 343.0h0M1232.1 488.6h0M1229.5 478.9h0M1220.9 516.9h0M1233.8 455.4h0M1219.3 500.8h0M1229.0 515.0h0M1226.3 532.7h0M1235.9 320.3h0M1217.6 515.9h0M1232.5 504.8h0M1224.2 540.2h0M1252.9 289.7h0M1223.7 542.4h0M1248.7 449.9h0M1227.1 523.3h0M1232.7 494.1h0M1216.6 524.1h0M1221.2 533.3h0M1209.5 523.7h0M1237.6 427.3h0M1227.2 528.4h0M1200.0 494.6h0M1212.6 447.4h0M1231.0 488.8h0M1208.8 483.0h0M1222.5 536.0h0M1230.7 504.8h0M1223.4 541.4h0M1220.1 521.1h0M1191.0 439.9h0M1164.1 460.6h0M1237.2 428.1h0M1219.5 525.7h0M1240.0 324.9h0M1225.9 526.6h0M1215.5 517.4h0M1230.5 486.1h0M1226.9 526.9h0M1243.0 386.5h0M1235.4 484.0h0M1238.1 472.1h0M1197.7 420.0h0M1231.6 499.5h0M1221.3 533.1h0M1202.1 467.7h0M1196.6 374.9h0M1221.3 518.2h0M1228.1 517.1h0M1212.9 492.9h0M1213.3 451.4h0M1233.8 462.9h0M1233.8 499.5h0M1230.4 492.7h0M1215.1 510.8h0M1217.4 518.8h0M1262.4 397.5h0M1229.9 519.7h0M1234.4 495.0h0M1225.2 537.3h0M1201.1 486.1h0M1220.0 530.6h0M1233.6 423.9h0M1221.9 530.9h0M1226.4 520.3h0M1236.9 267.7h0M1228.1 485.5h0M1226.7 529.5h0M1231.4 525.5h0M1230.9 526.5h0M1212.4 510.0h0M1217.8 446.4h0M1230.0 499.3h0M1225.7 530.6h0M1240.4 400.5h0M1246.8 506.0h0M1227.8 504.8h0M1222.2 533.6h0M1226.4 518.7h0M1221.9 535.1h0M1221.1 514.4h0M1235.4 365.0h0M1203.2 316.8h0M1222.8 536.1h0M1226.0 532.1h0M1231.6 489.3h0M1209.4 478.2h0M1215.4 489.8h0M1226.9 526.6h0M1200.1 488.3h0M1226.3 518.4h0M1230.3 478.4h0M1217.2 434.8h0M1216.0 508.0h0M1224.7 537.4h0M1225.7 533.5h0M1219.9 484.3h0M1238.1 509.5h0M1225.6 533.3h0M1218.4 524.8h0M1225.9 534.0h0M1228.3 508.4h0M1210.0 458.1h0M1238.3 256.4h0M1207.3 499.7h0M1237.3 388.5h0M1242.2 419.5h0M1231.4 487.4h0M1236.6 469.7h0M1195.8 420.6h0M1216.8 523.8h0M1225.0 534.4h0M1263.2 375.9h0M1229.9 494.2h0M1226.8 497.4h0M1227.4 533.6h0M1219.3 513.5h0M1214.9 408.1h0M1239.6 460.5h0M1227.6 517.2h0M1208.6 323.7h0M1222.2 531.4h0M1223.7 542.3h0M1222.5 533.0h0M1229.4 511.5h0M1236.0 273.0h0M1221.6 532.6h0M1209.7 417.8h0M1204.0 487.8h0M1220.1 517.5h0M1200.8 466.0h0M1223.6 542.0h0M1229.7 515.3h0M1224.1 541.3h0M1246.2 461.7h0M1225.1 534.6h0M1217.1 464.5h0M1232.8 383.7h0M1228.0 472.8h0M1226.1 529.6h0M1226.5 509.9h0M1232.0 478.0h0M1226.2 532.5h0M1196.0 355.6h0M1231.1 368.9h0M1217.4 524.6h0M1219.4 490.9h0M1215.5 488.7h0M1207.0 416.9h0M1222.5 537.0h0M1238.5 380.8h0M1225.3 531.1h0M1221.4 527.5h0M1226.1 530.7h0M1206.6 494.2h0M1202.3 423.0h0M1209.8 440.2h0M1218.1 455.4h0M1225.5 531.6h0M1230.0 456.2h0M1225.4 537.8h0M1230.4 483.0h0M1223.8 542.3h0M1231.7 518.6h0M1214.2 453.7h0M1225.7 534.2h0M1213.5 425.8h0M1225.4 534.6h0M1217.5 434.2h0M1203.1 500.4h0M1222.7 540.0h0M1228.8 509.9h0M1232.1 483.3h0M1209.6 328.1h0M1228.7 470.5h0M1235.1 461.6h0M1229.0 485.2h0M1227.9 528.0h0M1224.8 537.9h0M1234.0 358.8h0M1227.2 506.8h0M1224.5 537.9h0M1233.8 510.3h0M1237.8 459.5h0M1208.7 468.0h0M1256.0 340.6h0M1228.6 511.4h0M1182.8 468.2h0M1205.1 454.6h0M1228.3 445.9h0M1212.4 503.6h0M1216.4 469.2h0M1210.3 455.2h0M1210.4 515.9h0M1193.7 474.9h0M1242.0 479.4h0M1231.8 477.0h0M1233.2 489.2h0M1227.3 500.5h0M1207.5 380.2h0M1228.2 520.7h0M1202.0 407.4h0M1232.0 519.3h0M1208.0 472.3h0M1225.2 538.4h0M1234.8 484.7h0M1236.3 510.0h0M1251.9 379.3h0M1231.6 514.7h0M1203.5 523.6h0M1215.6 499.6h0M1231.3 321.8h0M1235.9 497.1h0M1227.5 515.2h0M1215.5 456.9h0M1198.8 433.4h0M1225.4 538.3h0M1215.8 496.9h0M1216.6 453.1h0M1209.5 464.0h0M1225.2 535.8h0M1260.7 414.5h0M1227.1 517.4h0M1215.6 435.6h0M1237.2 504.4h0M1224.3 539.8h0M1241.2 482.7h0M1235.2 278.4h0M1249.1 458.3h0M1226.0 530.6h0M1206.9 496.0h0M1236.2 351.0h0M1226.0 528.5h0M1240.7 328.8h0M1191.0 459.4h0M1225.2 537.5h0M1225.7 532.8h0M1221.2 517.4h0M1224.5 537.4h0M1225.9 532.3h0M1235.4 465.6h0M1172.4 415.5h0M1202.8 492.9h0M1220.1 498.7h0M1209.8 213.0h0M1226.2 525.0h0M1203.4 269.6h0M1250.1 421.2h0M1226.4 526.1h0M1225.2 529.4h0M1232.3 516.2h0M1206.9 345.6h0M1207.1 478.7h0M1218.3 420.8h0M1225.9 523.3h0M1231.4 530.6h0M1239.9 464.2h0M1222.7 537.8h0M1225.6 531.8h0M1235.3 405.4h0M1215.2 509.2h0M1204.2 490.1h0M1233.6 486.8h0M1211.1 407.1h0M1225.5 534.7h0M1233.4 446.1h0M1240.1 442.9h0M1255.7 420.3h0M1226.3 535.2h0M1230.9 490.7h0M1223.3 541.0h0M1254.4 424.5h0M1226.7 497.8h0M1209.3 487.5h0M1173.4 436.9h0M1238.2 263.0h0M1225.6 534.4h0M1237.5 253.5h0M1244.7 497.3h0M1232.7 490.3h0M1227.6 522.6h0M1222.9 539.9h0M1229.1 434.3h0M1223.7 542.4h0M1209.2 341.6h0M1206.5 491.2h0M1244.4 426.8h0M1219.5 526.8h0M1229.5 450.3h0M1228.2 499.9h0M1230.9 468.2h0M1227.7 492.1h0M1211.6 520.7h0M1211.7 501.7h0M1228.8 517.0h0M1219.7 505.0h0M1227.1 519.2h0M1221.5 528.1h0M1249.7 453.3h0M1212.7 503.6h0M1197.5 470.9h0M1225.4 536.5h0M1223.2 540.7h0M1226.4 533.0h0M1240.0 458.9h0M1228.3 510.6h0M1201.7 339.2h0M1230.3 505.6h0M1216.2 425.6h0M1216.3 524.3h0M1232.4 498.5h0M1204.0 379.6h0M1199.8 404.8h0M1181.4 506.6h0M1241.3 345.1h0M1198.1 474.4h0M1212.5 454.1h0M1219.6 516.6h0M1222.2 531.4h0M1224.6 537.3h0M1227.3 532.1h0M1233.8 503.0h0M1207.4 438.3h0M1223.4 541.2h0M1198.1 258.4h0M1227.7 520.5h0M1214.9 509.2h0M1210.8 482.1h0M1231.8 522.1h0M1250.8 416.4h0M1223.4 540.9h0M1199.0 479.1h0M1223.4 541.4h0M1222.6 536.7h0M1218.8 506.5h0M1236.8 504.1h0M1192.9 439.2h0M1227.5 530.9h0M1236.5 373.6h0M1225.2 533.7h0M1213.3 337.5h0M1228.1 493.5h0M1210.9 446.9h0M1247.1 308.0h0M1226.0 527.9h0M1227.0 509.0h0M1225.4 525.8h0M1228.9 532.8h0M1219.2 498.4h0M1221.3 530.5h0M1237.2 491.9h0M1243.4 479.2h0M1227.0 518.8h0M1226.3 518.2h0M1214.1 520.9h0M1226.5 504.9h0M1225.4 529.2h0M1222.1 537.5h0M1216.0 520.2h0M1246.4 424.7h0M1220.5 519.3h0M1236.6 400.8h0M1221.0 525.6h0M1239.2 485.0h0M1217.5 518.7h0M1202.6 394.7h0M1219.2 479.9h0M1238.9 432.8h0M1228.9 473.5h0M1229.2 433.2h0M1232.1 525.0h0M1231.7 514.3h0M1231.9 468.8h0M1240.5 352.2h0M1198.2 478.8h0M1192.2 483.1h0M1212.2 477.1h0M1258.2 413.9h0M1216.2 495.9h0M1229.7 500.0h0M1219.0 511.0h0M1235.1 495.3h0M1208.7 293.0h0M1238.9 506.4h0M1236.0 498.6h0M1216.5 436.2h0M1230.5 525.0h0M1230.7 500.8h0M1253.2 486.1h0M1236.6 449.5h0M1219.9 523.4h0M1222.5 533.6h0M1222.8 538.5h0M1225.0 537.4h0M1211.6 257.9h0M1231.0 410.2h0M1242.7 461.7h0M1232.1 502.5h0M1214.6 521.9h0M1233.8 323.9h0M1221.1 516.5h0M1221.7 535.4h0M1215.1 464.0h0M1236.4 305.7h0M1216.2 525.3h0M1201.9 502.0h0M1252.1 443.2h0M1218.7 477.9h0M1224.0 541.5h0M1226.3 522.1h0M1217.8 478.0h0M1223.2 541.3h0M1214.0 492.8h0M1224.1 540.8h0M1225.0 532.7h0M1254.6 479.6h0M1231.9 380.1h0M1237.8 464.5h0M1209.6 467.1h0M1207.8 483.8h0M1223.0 540.4h0M1203.8 325.1h0M1215.6 320.3h0M1227.8 490.6h0M1227.6 502.2h0M1228.2 486.1h0M1240.4 495.8h0M1237.4 516.3h0M1229.1 512.1h0M1227.1 500.6h0M1228.0 470.3h0M1222.6 537.4h0M1233.5 226.1h0M1222.6 536.2h0M1216.5 455.0h0M1231.0 483.8h0M1194.9 485.4h0M1212.2 517.1h0M1212.8 498.8h0M1216.9 523.0h0M1268.7 388.2h0M1208.0 325.1h0M1221.8 529.1h0M1246.8 256.9h0M1214.1 333.7h0M1236.6 462.8h0M1232.3 396.0h0M1230.6 482.8h0M1231.0 463.3h0M1234.7 475.0h0M1227.3 499.3h0M1225.7 529.7h0M1224.9 538.4h0M1212.7 485.8h0M1209.0 492.2h0M1245.5 373.4h0M1248.9 321.0h0M1213.0 510.4h0M1233.2 506.5h0M1230.1 402.4h0M1232.9 505.2h0M1224.8 537.0h0M1225.5 524.4h0M1221.0 521.9h0M1231.6 403.6h0M1219.4 525.2h0M1224.4 538.8h0M1227.6 478.8h0M1219.6 520.4h0M1222.3 529.5h0M1220.5 510.2h0M1226.1 514.5h0M1212.9 500.2h0M1205.9 466.6h0M1213.4 315.6h0M1220.8 518.7h0M1240.4 439.5h0M1248.9 447.1h0M1241.2 406.1h0M1231.2 452.5h0M1217.2 514.2h0M1220.6 497.8h0M1212.2 484.6h0M1217.3 468.8h0M1257.1 371.4h0M1225.0 539.4h0M1217.7 400.0h0M1225.4 531.2h0M1236.9 282.7h0M1210.0 437.1h0M1215.2 390.6h0M1219.9 516.5h0M1219.9 501.5h0M1177.3 410.1h0M1232.1 516.3h0M1222.7 536.0h0M1196.9 399.5h0M1241.3 465.8h0M1224.4 539.1h0M1230.8 511.6h0M1231.6 323.2h0M1226.5 530.8h0M1219.5 474.3h0M1235.6 469.0h0M1222.4 537.3h0M1242.9 335.6h0M1223.9 541.7h0M1240.0 487.4h0M1223.3 540.9h0M1214.7 420.4h0M1224.2 539.8h0M1205.3 503.6h0M1200.7 419.9h0M1231.0 523.0h0M1196.7 226.6h0M1229.4 491.4h0M1221.1 520.1h0M1246.1 475.5h0M1238.4 484.3h0M1236.0 388.4h0M1222.3 533.9h0M1228.2 517.5h0M1222.6 536.8h0M1229.4 401.6h0M1228.4 475.1h0M1229.3 498.2h0M1236.3 455.2h0M1215.6 517.3h0M1203.4 364.0h0M1244.0 442.9h0M1224.1 541.1h0M1217.3 516.9h0M1225.6 526.3h0M1215.3 492.6h0M1240.6 506.7h0M1239.5 498.4h0M1216.3 508.1h0M1226.7 505.6h0M1228.5 461.3h0M1242.8 376.9h0M1234.7 455.4h0M1222.0 531.8h0M1224.6 539.3h0M1219.9 514.7h0M1265.0 342.2h0M1210.1 442.8h0M1218.5 527.6h0M1228.0 458.5h0M1226.0 533.6h0M1233.7 428.8h0M1220.5 529.2h0M1177.0 448.4h0M1230.0 507.2h0M1221.8 529.0h0M1247.5 455.4h0M1218.7 485.0h0M1230.3 513.9h0M1231.0 358.2h0M1222.6 539.6h0M1229.9 518.2h0M1211.4 414.3h0M1229.1 519.2h0M1230.6 439.5h0M1224.4 538.9h0M1211.7 409.1h0M1229.1 502.5h0M1235.2 465.7h0M1218.3 509.0h0M1187.4 321.2h0M1220.5 513.1h0M1206.4 488.6h0M1226.0 519.0h0M1223.7 542.4h0M1217.7 489.4h0M1242.9 477.4h0M1201.6 467.0h0M1227.5 506.4h0M1240.4 507.0h0M1213.4 512.2h0M1228.8 515.8h0M1218.2 509.1h0M1221.4 521.9h0M1229.7 477.7h0M1235.8 441.1h0M1207.4 460.6h0M1219.7 477.5h0M1224.6 537.5h0M1215.6 419.5h0M1232.3 490.5h0M1228.4 523.7h0M1194.9 461.0h0M1220.3 534.6h0M1245.9 263.4h0M1232.0 480.1h0M1197.4 503.7h0M1227.0 494.4h0M1231.1 525.7h0M1220.2 493.8h0M1234.6 462.1h0M1234.9 503.4h0M1220.8 528.1h0M1174.2 498.0h0M1238.1 347.7h0M1229.7 489.4h0M1185.7 381.3h0M1216.4 524.7h0M1205.8 433.3h0M1235.1 476.5h0M1246.9 390.2h0M1234.3 345.0h0M1228.7 507.8h0M1234.3 482.5h0M1196.5 434.1h0M1226.1 535.5h0M1217.7 511.5h0M1235.2 453.5h0M1238.4 468.0h0M1217.4 426.9h0M1253.7 410.3h0M1216.4 467.1h0M1224.7 536.4h0M1239.1 422.1h0M1194.2 482.7h0M1223.6 542.0h0M1248.3 386.8h0M1225.9 532.9h0M1221.7 528.8h0M1225.9 536.5h0M1220.9 533.2h0M1213.4 512.0h0M1235.5 458.8h0M1232.2 517.1h0M1214.3 527.0h0M1225.1 536.2h0M1240.3 481.3h0M1231.9 425.0h0M1184.2 387.7h0M1226.3 520.4h0M1220.0 529.7h0M1229.6 470.1h0M1225.1 533.7h0M1227.0 525.5h0M1216.3 503.4h0M1230.5 462.9h0M1190.9 441.2h0M1220.3 532.9h0M1190.1 473.3h0M1239.1 401.6h0M1229.1 450.1h0M1224.5 538.9h0M1228.1 490.7h0M1228.4 531.6h0M1245.2 442.0h0M1253.9 267.6h0M1223.7 542.4h0M1235.4 444.3h0M1226.1 521.3h0M1230.6 375.3h0M1235.0 471.6h0M1226.1 521.1h0M1264.7 384.1h0M1211.0 472.3h0M1215.6 433.3h0M1219.6 520.0h0M1227.2 497.9h0M1197.5 433.7h0M1227.4 499.8h0M1250.1 379.5h0M1220.2 529.7h0M1245.8 345.5h0M1222.4 533.2h0M1218.1 532.1h0M1200.5 494.7h0M1221.2 532.9h0M1226.5 522.0h0M1233.6 401.1h0M1225.9 523.0h0M1218.4 499.7h0M1223.2 540.5h0M1224.1 541.3h0M1225.9 532.2h0M1230.9 489.2h0M1231.9 452.9h0M1228.7 508.9h0M1212.6 460.9h0M1234.8 378.7h0M1229.2 512.4h0M1213.1 464.3h0M1225.6 530.1h0M1218.8 503.7h0M1223.1 539.2h0M1224.9 534.4h0M1218.3 512.3h0M1224.7 538.7h0M1221.5 526.0h0M1211.2 495.8h0M1240.3 478.1h0M1215.3 511.7h0M1232.5 470.2h0M1245.6 310.3h0M1246.3 507.9h0M1233.1 519.0h0M1228.8 436.8h0M1228.6 501.6h0M1227.3 520.0h0M1223.0 539.9h0M1223.9 541.7h0M1227.5 524.0h0M1216.8 432.5h0M1226.8 530.7h0M1212.7 390.7h0M1227.4 533.2h0M1227.1 530.6h0M1222.2 537.7h0M1199.8 414.7h0M1204.3 387.0h0M1226.9 532.4h0M1213.7 365.4h0M1225.4 529.0h0M1230.8 422.4h0M1222.9 537.5h0M1227.2 517.9h0M1220.5 524.4h0M1174.7 475.3h0M1214.3 505.0h0M1239.8 505.2h0M1222.0 529.2h0M1212.8 465.6h0M1243.0 475.5h0M1226.8 527.1h0M1219.9 535.5h0M1216.0 498.7h0M1220.5 525.4h0M1238.5 511.7h0M1230.7 493.1h0M1225.7 525.7h0M1217.8 518.6h0M1233.0 434.7h0M1200.5 506.6h0M1199.8 229.9h0M1198.5 425.7h0M1219.2 463.5h0M1222.0 530.6h0M1221.0 529.6h0M1223.1 539.7h0M1238.5 372.5h0M1227.6 499.7h0M1213.5 464.4h0M1208.7 490.2h0M1239.3 482.9h0M1228.2 489.4h0M1237.7 433.8h0M1235.1 469.9h0M1203.9 518.8h0M1220.7 521.4h0M1217.8 486.8h0M1223.9 541.7h0M1224.3 540.2h0M1229.8 520.1h0M1209.9 469.4h0M1230.6 517.3h0M1215.8 418.8h0M1226.8 529.0h0M1233.7 377.1h0M1198.6 466.5h0M1223.6 542.2h0M1225.4 532.5h0M1209.1 466.1h0M1228.6 512.4h0M1215.2 487.3h0M1229.2 493.4h0M1211.9 515.3h0M1188.9 369.5h0M1226.7 516.0h0M1221.0 521.9h0M1225.5 533.2h0M1222.3 534.6h0M1231.5 501.2h0M1190.4 383.8h0M1225.9 531.8h0M1223.6 542.1h0M1228.2 508.4h0M1224.4 539.5h0M1234.1 405.6h0M1224.8 537.9h0M1224.4 539.5h0M1233.3 497.6h0M1229.4 508.9h0M1231.7 503.6h0M1211.8 325.8h0M1224.1 540.9h0M1228.7 529.3h0M1223.8 542.3h0M1223.0 538.3h0M1227.7 520.1h0M1229.4 526.1h0M1235.2 504.6h0M1167.4 476.9h0M1221.8 526.7h0M1235.4 373.0h0M1212.8 516.6h0M1249.1 313.2h0M1225.0 531.9h0M1217.5 489.2h0M1229.4 523.7h0M1212.4 499.6h0M1233.3 421.7h0M1230.1 474.2h0M1210.0 510.0h0M1226.3 529.7h0M1220.4 500.3h0M1239.8 503.9h0M1227.1 520.3h0M1217.8 520.2h0M1224.1 541.1h0M1226.6 533.3h0M1234.5 518.2h0M1232.4 427.5h0M1225.2 536.6h0M1226.5 527.8h0M1231.8 494.5h0M1232.5 503.4h0M1208.8 456.7h0M1225.8 533.2h0M1222.2 532.6h0M1218.7 503.8h0M1214.2 511.3h0M1234.2 332.8h0M1228.2 466.8h0M1212.5 520.8h0M1220.1 516.3h0M1213.5 524.1h0M1225.6 531.2h0M1225.1 530.9h0M1228.6 511.0h0M1236.0 467.8h0M1238.5 275.8h0M1225.0 535.9h0M1230.4 512.7h0M1226.6 527.1h0M1210.0 485.0h0M1205.7 481.7h0M1235.7 472.9h0M1223.8 542.3h0M1216.9 395.5h0M1217.2 517.0h0M1217.0 357.4h0M1238.1 442.2h0M1213.6 443.4h0M1228.4 521.2h0M1221.8 529.0h0M1226.4 525.5h0M1225.3 534.4h0M1213.6 511.4h0M1174.8 459.3h0M1227.4 529.6h0M1201.3 307.5h0M1233.8 491.2h0M1225.0 535.3h0M1234.9 505.7h0M1238.2 505.2h0M1221.8 536.3h0M1213.8 463.4h0M1225.2 530.5h0M1180.9 415.7h0M1191.1 302.0h0M1211.0 482.3h0M1218.3 503.7h0M1200.4 501.4h0M1247.0 312.4h0M1233.6 492.3h0M1213.2 500.0h0M1204.0 465.5h0M1210.3 496.8h0M1218.0 519.0h0M1242.8 368.7h0M1252.5 462.8h0M1219.9 525.7h0M1240.1 461.0h0M1212.3 509.1h0M1209.7 494.3h0M1231.5 521.7h0M1243.2 421.3h0M1227.7 526.1h0M1232.0 506.7h0M1224.7 536.2h0M1231.0 497.0h0M1219.6 517.3h0M1261.6 441.1h0M1241.8 493.5h0M1225.9 527.5h0M1224.2 540.6h0M1173.2 419.1h0M1228.1 526.5h0M1231.0 514.1h0M1236.3 402.3h0M1242.1 459.5h0M1237.0 503.2h0M1254.8 423.9h0M1215.8 407.2h0M1226.6 525.1h0M1256.6 429.3h0M1209.1 434.6h0M1233.4 358.1h0M1230.9 354.1h0M1221.1 528.1h0M1225.1 533.4h0M1236.2 428.8h0M1220.7 528.4h0M1228.4 507.7h0M1242.6 448.6h0M1226.0 532.2h0M1217.0 497.4h0M1239.8 423.2h0M1233.4 435.5h0M1224.2 540.2h0M1246.8 385.6h0M1223.2 540.2h0M1234.6 500.4h0M1192.4 250.4h0M1244.9 449.3h0M1217.7 458.3h0M1222.9 539.3h0M1258.8 459.5h0M1241.8 430.2h0M1225.5 528.0h0M1230.6 466.6h0M1231.3 511.6h0M1222.5 536.7h0M1230.0 507.7h0M1218.9 439.6h0M1225.0 537.6h0M1218.2 513.1h0M1189.1 489.5h0M1221.5 528.6h0M1232.0 456.9h0M1234.6 497.0h0M1181.4 478.7h0M1216.3 467.4h0M1235.1 189.7h0M1224.1 541.0h0M1229.6 455.4h0M1227.2 503.3h0M1208.6 371.6h0M1237.0 339.6h0M1197.1 447.8h0M1221.1 529.0h0M1209.6 520.3h0M1216.6 484.6h0M1204.8 476.2h0M1221.2 525.9h0M1226.6 523.2h0M1230.8 512.1h0M1240.5 324.4h0M1225.8 529.4h0M1211.0 455.0h0M1229.9 491.1h0M1213.5 344.4h0M1226.9 508.5h0M1224.3 539.6h0M1224.0 541.6h0M1206.6 493.1h0M1222.8 536.8h0M1228.3 523.7h0M1238.6 496.4h0M1213.8 453.0h0M1240.0 499.8h0M1228.0 512.8h0M1226.9 522.9h0M1244.9 393.5h0M1225.4 533.2h0M1223.5 541.7h0M1206.7 500.6h0M1209.7 491.3h0M1238.1 457.0h0M1231.8 494.1h0M1234.3 419.9h0M1235.7 291.2h0M1230.0 512.0h0M1221.2 515.2h0M1259.7 420.6h0M1223.9 541.8h0M1220.9 533.6h0M1226.7 503.9h0M1233.5 527.0h0M1224.6 539.7h0M1236.5 458.1h0M1226.8 528.3h0M1232.7 508.4h0M1219.9 531.5h0M1228.3 497.5h0M1226.6 510.9h0M1223.0 539.8h0M1238.0 475.2h0M1232.4 466.9h0M1244.1 441.5h0M1233.7 479.9h0M1220.2 502.2h0M1230.5 487.2h0M1228.5 524.7h0M1225.5 526.8h0M1229.9 492.1h0M1225.6 534.7h0M1225.1 535.8h0M1212.0 485.8h0M1234.1 515.3h0M1225.4 527.5h0M1222.4 535.6h0M1230.8 498.5h0M1233.7 491.6h0M1215.4 387.8h0M1215.8 513.9h0M1216.5 524.9h0M1227.3 528.9h0M1225.8 536.5h0M1227.1 489.2h0M1234.4 521.3h0M1217.6 505.5h0M1223.2 539.9h0M1215.8 491.9h0M1205.1 504.9h0M1244.6 501.0h0M1222.6 534.8h0M1206.7 489.3h0M1219.2 533.1h0M1176.5 469.5h0M1234.3 478.6h0M1209.3 489.9h0M1201.7 350.9h0M1217.4 442.2h0M1238.5 486.2h0M1229.9 386.0h0M1245.5 439.5h0M1232.2 475.5h0M1231.8 508.2h0M1215.9 480.7h0M1249.1 446.3h0M1220.9 505.6h0M1206.5 487.7h0M1213.6 407.2h0M1010.0 435.1h0M1043.4 446.4h0M1078.4 406.3h0M1120.6 413.8h0M1126.2 445.8h0M1132.2 499.5h0M1138.6 474.4h0M1141.5 438.3h0M1141.8 465.4h0M1144.9 406.3h0M1148.5 435.1h0M1150.2 449.0h0M1155.2 505.1h0M1159.8 505.1h0M1159.8 468.5h0M1159.8 413.4h0M1157.2 425.1h0M1159.6 453.2h0M1301.7 390.8h0M1336.8 396.2h0M1330.4 405.1h0M1301.7 412.6h0M1293.1 406.8h0M1282.1 415.5h0M1289.1 374.8h0M1315.4 434.1h0M1325.3 456.3h0M1298.2 458.8h0M1293.2 439.0h0M1288.3 498.3h0M1280.9 507.1h0M1281.9 500.7h0M1274.9 453.9h0" stroke="#808080" stroke-width="3" stroke-linecap="round" fill="none"/><path d="M1139.2 111.6h0M1178.2 121.8h0M1157.8 172.8h0M1183.2 175.0h0M1148.4 181.5h0M1141.8 185.1h0M1147.1 188.8h0M1176.9 193.5h0M1148.4 196.4h0M1098.5 204.4h0M1159.8 204.4h0M1195.2 220.8h0M1129.5 225.9h0M1185.6 230.2h0M1124.1 235.5h0M1166.2 233.3h0M1141.5 237.9h0M1147.8 238.9h0M1154.2 246.9h0M1185.6 248.9h0M1176.2 250.0h0M1151.5 254.4h0M1182.9 256.0h0M1190.2 254.7h0M1114.1 263.4h0M1187.6 264.7h0M1176.2 269.4h0M1160.9 281.7h0M1145.1 284.1h0M1178.2 284.1h0M1173.5 289.1h0M1156.8 291.4h0M1158.5 291.0h0M1149.5 293.4h0M1159.5 296.7h0M1166.9 302.1h0M1070.3 306.1h0M1149.5 305.8h0M1138.8 310.4h0M1145.5 312.5h0M1119.5 317.2h0M1152.8 317.2h0M1158.2 317.4h0M1110.1 324.5h0M1077.8 326.1h0M1039.4 327.9h0M1132.8 326.8h0M1152.2 347.9h0M1137.5 351.6h0M1151.5 352.8h0M1140.8 357.0h0M1124.8 364.2h0M1084.5 367.5h0M1103.4 373.2h0M1402.0 146.0h0M1254.7 155.0h0M1249.3 150.0h0M1251.3 178.3h0M1253.4 197.4h0M1258.7 199.4h0M1270.3 222.5h0M1255.4 223.9h0M1266.0 237.8h0M1262.0 237.5h0M1300.5 252.6h0M1315.4 256.2h0M1310.8 259.5h0M1277.1 259.9h0M1260.0 260.2h0M1263.4 263.3h0M1259.4 266.5h0M1263.4 272.2h0M1263.4 274.9h0M1267.4 279.5h0M1322.8 279.5h0M1263.8 273.3h0M1266.7 287.6h0M1297.7 291.4h0M1283.7 308.0h0M1300.5 308.6h0M1269.4 313.7h0M1279.7 320.7h0M1291.0 329.1h0M1274.4 333.4h0M1285.7 345.7h0M1295.7 347.7h0M1297.4 358.1h0M1350.0 367.5h0M1321.7 374.8h0" stroke="#000" stroke-width="3.1" stroke-linecap="round" fill="none"/>
<text transform="matrix(0.89 0 0 1 1134.4 345.61)" font-family="'Liberation Sans', sans-serif" font-weight="400" font-size="28.87" fill="#ff0000">ACE2</text>
<circle cx="1138.8" cy="320.9" r="5.9" fill="#ff0000"/>
<path d="M45.4 666.5A11.3 13.7 0 1 0 45.4 684.3" fill="none" stroke="#000" stroke-width="4.8" stroke-linecap="round"/>
<rect x="75" y="651.1" width="345.7" height="2.5" fill="#000"/>
<rect x="75" y="653.6" width="345.7" height="27.9" fill="#bdd7ee"/>
<rect x="75" y="681.5" width="345.7" height="5.1" fill="#000"/>
<rect x="75" y="926" width="345.7" height="33.2" fill="#bdd7ee"/>
<rect x="75" y="959.2" width="345.7" height="2.8" fill="#000"/>
<rect x="75" y="1135" width="345.7" height="61.1" fill="#bdd7ee"/>
<rect x="75" y="1196.1" width="345.7" height="2.9" fill="#000"/>
<text transform="matrix(1 0 0 1 143.38 677.38)" font-family="'Liberation Sans', sans-serif" font-weight="700" font-size="21.83" fill="#000">DONOR</text>
<text transform="matrix(0.91 0 0 1 330 677.58)" font-family="'Liberation Sans', sans-serif" font-weight="700" font-size="22.11" fill="#000">ACE2</text>
<text transform="matrix(0.96 0 0 1 170.5 713.1)" font-family="'Liberation Sans', sans-serif" font-weight="400" font-size="22.17" fill="#000">D1</text>
<text transform="matrix(1 0 0 1 328.92 712.88)" font-family="'Liberation Sans', sans-serif" font-weight="400" font-size="22.11" fill="#000">0.553</text>
<text transform="matrix(0.97 0 0 1 170.5 747.5)" font-family="'Liberation Sans', sans-serif" font-weight="400" font-size="21.86" fill="#000">D2</text>
<text transform="matrix(1 0 0 1 328.92 747.28)" font-family="'Liberation Sans', sans-serif" font-weight="400" font-size="22.11" fill="#000">0.471</text>
<text transform="matrix(0.98 0 0 1 170.51 781.68)" font-family="'Liberation Sans', sans-serif" font-weight="400" font-size="21.55" fill="#000">D3</text>
<text transform="matrix(1 0 0 1 328.92 781.68)" font-family="'Liberation Sans', sans-serif" font-weight="400" font-size="22.11" fill="#000">0.572</text>
<text transform="matrix(0.94 0 0 1 170.52 816.3)" font-family="'Liberation Sans', sans-serif" font-weight="400" font-size="22.17" fill="#000">D4</text>
<text transform="matrix(0.99 0 0 1 328.92 816.08)" font-family="'Liberation Sans', sans-serif" font-weight="400" font-size="22.11" fill="#000">0.334</text>
<text transform="matrix(0.97 0 0 1 170.51 850.48)" font-family="'Liberation Sans', sans-serif" font-weight="400" font-size="21.86" fill="#000">D5</text>
<text transform="matrix(1 0 0 1 328.92 850.48)" font-family="'Liberation Sans', sans-serif" font-weight="400" font-size="22.11" fill="#000">0.417</text>
<text transform="matrix(0.98 0 0 1 170.51 884.88)" font-family="'Liberation Sans', sans-serif" font-weight="400" font-size="21.55" fill="#000">D6</text>
<text transform="matrix(1 0 0 1 328.92 884.88)" font-family="'Liberation Sans', sans-serif" font-weight="400" font-size="22.11" fill="#000">0.582</text>
<text transform="matrix(0.99 0 0 1 135.05 919.27)" font-family="'Liberation Sans', sans-serif" font-weight="400" font-size="21.56" fill="#000">average D</text>
<text transform="matrix(1.05 0 0 1 328.82 919.79)" font-family="'Liberation Sans', sans-serif" font-weight="400" font-size="20.99" fill="#2e75b6">0.488</text>
<text transform="matrix(0.93 0 0 1 99.78 953.48)" font-family="'Liberation Sans', sans-serif" font-weight="700" font-size="22" fill="#000">HEART FAILURE</text>
<text transform="matrix(0.91 0 0 1 327.4 953.88)" font-family="'Liberation Sans', sans-serif" font-weight="700" font-size="21.69" fill="#000">ACE2</text>
<text transform="matrix(0.91 0 0 1 161.85 987.9)" font-family="'Liberation Sans', sans-serif" font-weight="400" font-size="25.36" fill="#000">HF1</text>
<text transform="matrix(1.03 0 0 1 325.1 987.66)" font-family="'Liberation Sans', sans-serif" font-weight="400" font-size="24.37" fill="#000">0.545</text>
<text transform="matrix(0.93 0 0 1 161.84 1022.93)" font-family="'Liberation Sans', sans-serif" font-weight="400" font-size="25" fill="#000">HF2</text>
<text transform="matrix(1.04 0 0 1 324.2 1022.69)" font-family="'Liberation Sans', sans-serif" font-weight="400" font-size="24.37" fill="#000">1.206</text>
<text transform="matrix(0.94 0 0 1 161.85 1057.71)" font-family="'Liberation Sans', sans-serif" font-weight="400" font-size="24.65" fill="#000">HF3</text>
<text transform="matrix(1.04 0 0 1 324.19 1057.72)" font-family="'Liberation Sans', sans-serif" font-weight="400" font-size="24.37" fill="#000">1.349</text>
<text transform="matrix(0.91 0 0 1 161.86 1092.99)" font-family="'Liberation Sans', sans-serif" font-weight="400" font-size="25.36" fill="#000">HF4</text>
<text transform="matrix(1.04 0 0 1 324.21 1092.75)" font-family="'Liberation Sans', sans-serif" font-weight="400" font-size="24.37" fill="#000">1.984</text>
<text transform="matrix(1 0 0 1 122.56 1127.35)" font-family="'Liberation Sans', sans-serif" font-weight="400" font-size="23.56" fill="#000">average HF</text>
<text transform="matrix(1.08 0 0 1 325.44 1127.1)" font-family="'Liberation Sans', sans-serif" font-weight="400" font-size="22.86" fill="#2e75b6">1.271</text>
<text transform="matrix(0.97 0 0 1 78.42 1159.48)" font-family="'Liberation Sans', sans-serif" font-weight="700" font-size="21.97" fill="#000">FOLD CHANGE HF/D</text>
<text transform="matrix(1.06 0 0 1 334.18 1159.48)" font-family="'Liberation Sans', sans-serif" font-weight="700" font-size="21.97" fill="#000">2.60</text>
<text transform="matrix(1.04 0 0 1 145.39 1190.39)" font-family="'Liberation Sans', sans-serif" font-weight="700" font-size="20.82" fill="#000">P-value</text>
<text transform="matrix(1.01 0 0 1 327.57 1190.41)" font-family="'Liberation Sans', sans-serif" font-weight="700" font-size="23.16" fill="#000">0,007</text>
<text transform="matrix(0.98 0 0 1 908.29 687.08)" font-family="'Liberation Sans', sans-serif" font-weight="400" font-size="61.63" fill="#000">d</text>
<rect x="1082.2" y="664" width="5.3" height="503.7" fill="#000"/>
<rect x="1064.3" y="1162.6" width="347.5" height="5" fill="#000"/>
<rect x="1064.3" y="1163" width="19.7" height="4.4" fill="#000"/>
<path transform="translate(1011.5 1155.9)" d="M7.1 0.5C3.5 0.5 0.9 5.5 0.9 11.6C0.9 17.7 3.5 22.7 7.1 22.7C10.7 22.7 13.3 17.7 13.3 11.6C13.3 5.5 10.7 0.5 7.1 0.5Z" fill="none" stroke="#000" stroke-width="1.5"/>
<path transform="translate(1042.5 1155.9)" d="M7.1 0.5C3.5 0.5 0.9 5.5 0.9 11.6C0.9 17.7 3.5 22.7 7.1 22.7C10.7 22.7 13.3 17.7 13.3 11.6C13.3 5.5 10.7 0.5 7.1 0.5Z" fill="none" stroke="#000" stroke-width="1.5"/>
<circle cx="1039" cy="1177.2" r="2.5" fill="#000"/>
<rect x="1064.3" y="1038.35" width="19.7" height="4.4" fill="#000"/>
<path transform="translate(1011.5 1031.25)" d="M7.1 0.5C3.5 0.5 0.9 5.5 0.9 11.6C0.9 17.7 3.5 22.7 7.1 22.7C10.7 22.7 13.3 17.7 13.3 11.6C13.3 5.5 10.7 0.5 7.1 0.5Z" fill="none" stroke="#000" stroke-width="1.5"/>
<path transform="translate(1042.5 1031.25)" d="M1.1 0.4H12.7M1.8 0.4V10.3C3.2 9.2 5 8.7 7 8.7C11 8.7 13.8 11.4 13.8 15.6C13.8 19.9 11 22.9 7.1 22.9C4.3 22.9 2 21.6 0.2 19.6" fill="none" stroke="#000" stroke-width="1.5"/>
<circle cx="1039" cy="1052.55" r="2.5" fill="#000"/>
<rect x="1064.3" y="913.7" width="19.7" height="4.4" fill="#000"/>
<path transform="translate(1011.5 906.6)" d="M0.7 2.8C3 1.8 5 1.2 7.5 0.4V22.6M0.6 22.6H14.3" fill="none" stroke="#000" stroke-width="1.5"/>
<path transform="translate(1042.5 906.6)" d="M7.1 0.5C3.5 0.5 0.9 5.5 0.9 11.6C0.9 17.7 3.5 22.7 7.1 22.7C10.7 22.7 13.3 17.7 13.3 11.6C13.3 5.5 10.7 0.5 7.1 0.5Z" fill="none" stroke="#000" stroke-width="1.5"/>
<circle cx="1039" cy="927.9" r="2.5" fill="#000"/>
<rect x="1064.3" y="789.05" width="19.7" height="4.4" fill="#000"/>
<path transform="translate(1011.5 781.95)" d="M0.7 2.8C3 1.8 5 1.2 7.5 0.4V22.6M0.6 22.6H14.3" fill="none" stroke="#000" stroke-width="1.5"/>
<path transform="translate(1042.5 781.95)" d="M1.1 0.4H12.7M1.8 0.4V10.3C3.2 9.2 5 8.7 7 8.7C11 8.7 13.8 11.4 13.8 15.6C13.8 19.9 11 22.9 7.1 22.9C4.3 22.9 2 21.6 0.2 19.6" fill="none" stroke="#000" stroke-width="1.5"/>
<circle cx="1039" cy="803.25" r="2.5" fill="#000"/>
<rect x="1064.3" y="664.4" width="19.7" height="4.4" fill="#000"/>
<path transform="translate(1011.5 657.3)" d="M0.3 6.4C1.5 2.6 4.2 0.5 7.4 0.5C11 0.5 13.5 3 13.5 6.3C13.5 9.5 11.3 11.6 8.5 13.8L0.2 22.2H14V20.6" fill="none" stroke="#000" stroke-width="1.5"/>
<path transform="translate(1042.5 657.3)" d="M7.1 0.5C3.5 0.5 0.9 5.5 0.9 11.6C0.9 17.7 3.5 22.7 7.1 22.7C10.7 22.7 13.3 17.7 13.3 11.6C13.3 5.5 10.7 0.5 7.1 0.5Z" fill="none" stroke="#000" stroke-width="1.5"/>
<circle cx="1039" cy="678.6" r="2.5" fill="#000"/>
<rect x="1175" y="1165" width="4.8" height="21" fill="#000"/>
<rect x="1314.2" y="1165" width="4.8" height="21" fill="#000"/>
<text transform="translate(983.22 946.93) rotate(-90) scale(1.08 1)" font-family="'Liberation Serif', serif" font-weight="400" font-size="34.88" fill="#000" stroke="#fff" stroke-width="0.9">RQ</text>
<text transform="matrix(1.01 0 0 1 1130.85 1205.91)" font-family="'Liberation Sans', sans-serif" font-weight="400" font-size="29" fill="#000">Donor</text>
<text transform="matrix(0.92 0 0 1 1240.42 1207.09)" font-family="'Liberation Sans', sans-serif" font-weight="400" font-size="30.88" fill="#000">Heart Failure</text>
<circle cx="1177.4" cy="736.6" r="7.6" fill="#000"/>
<circle cx="1177.4" cy="778.75" r="7.6" fill="#000"/>
<circle cx="1177.4" cy="819.1" r="7.6" fill="#000"/>
<circle cx="1177.4" cy="866.25" r="7.6" fill="#000"/>
<circle cx="1162.7" cy="895.9" r="7.6" fill="#000"/>
<circle cx="1192.1" cy="890.8" r="7.6" fill="#000"/>
<circle cx="1177.4" cy="931.4" r="7.6" fill="#000"/>
<circle cx="1162.7" cy="948.5" r="7.6" fill="#000"/>
<circle cx="1192.1" cy="956.2" r="7.6" fill="#000"/>
<circle cx="1177.4" cy="979.1" r="7.6" fill="#000"/>
<circle cx="1177.4" cy="1025.5" r="7.6" fill="#000"/>
<circle cx="1177.4" cy="1063.6" r="7.6" fill="#000"/>
<circle cx="1162.7" cy="1120.7" r="7.6" fill="#000"/>
<circle cx="1192.1" cy="1118.1" r="7.6" fill="#000"/>
<rect x="1154.2" y="905.1" width="46.7" height="2.6" fill="#000"/>
<rect x="1154.2" y="968.4" width="46.7" height="2.6" fill="#000"/>
<rect x="1176.1" y="906" width="2.6" height="64" fill="#000"/>
<rect x="1131.1" y="935.5" width="93.1" height="5" fill="#000"/>
<circle cx="1316.5" cy="733.8" r="7.6" fill="#ff0000"/>
<circle cx="1301.8" cy="806.7" r="7.6" fill="#ff0000"/>
<circle cx="1331" cy="809.3" r="7.6" fill="#ff0000"/>
<circle cx="1301.8" cy="878.8" r="7.6" fill="#ff0000"/>
<circle cx="1331" cy="873.6" r="7.6" fill="#ff0000"/>
<circle cx="1316.5" cy="931.5" r="7.6" fill="#ff0000"/>
<circle cx="1316.5" cy="958.8" r="7.6" fill="#ff0000"/>
<circle cx="1316.5" cy="978.7" r="7.6" fill="#ff0000"/>
<circle cx="1316.5" cy="1025.3" r="7.6" fill="#ff0000"/>
<circle cx="1316.5" cy="1117.4" r="7.6" fill="#ff0000"/>
<circle cx="1316.5" cy="1132.5" r="7.6" fill="#ff0000"/>
<rect x="1293.2" y="891.6" width="46.6" height="2.6" fill="#ff0000"/>
<rect x="1293.2" y="968.6" width="46.6" height="2.6" fill="#ff0000"/>
<rect x="1315.2" y="892" width="2.6" height="78" fill="#ff0000"/>
<rect x="1269.9" y="929" width="92.8" height="5" fill="#ff0000"/>
</svg></body></html>
